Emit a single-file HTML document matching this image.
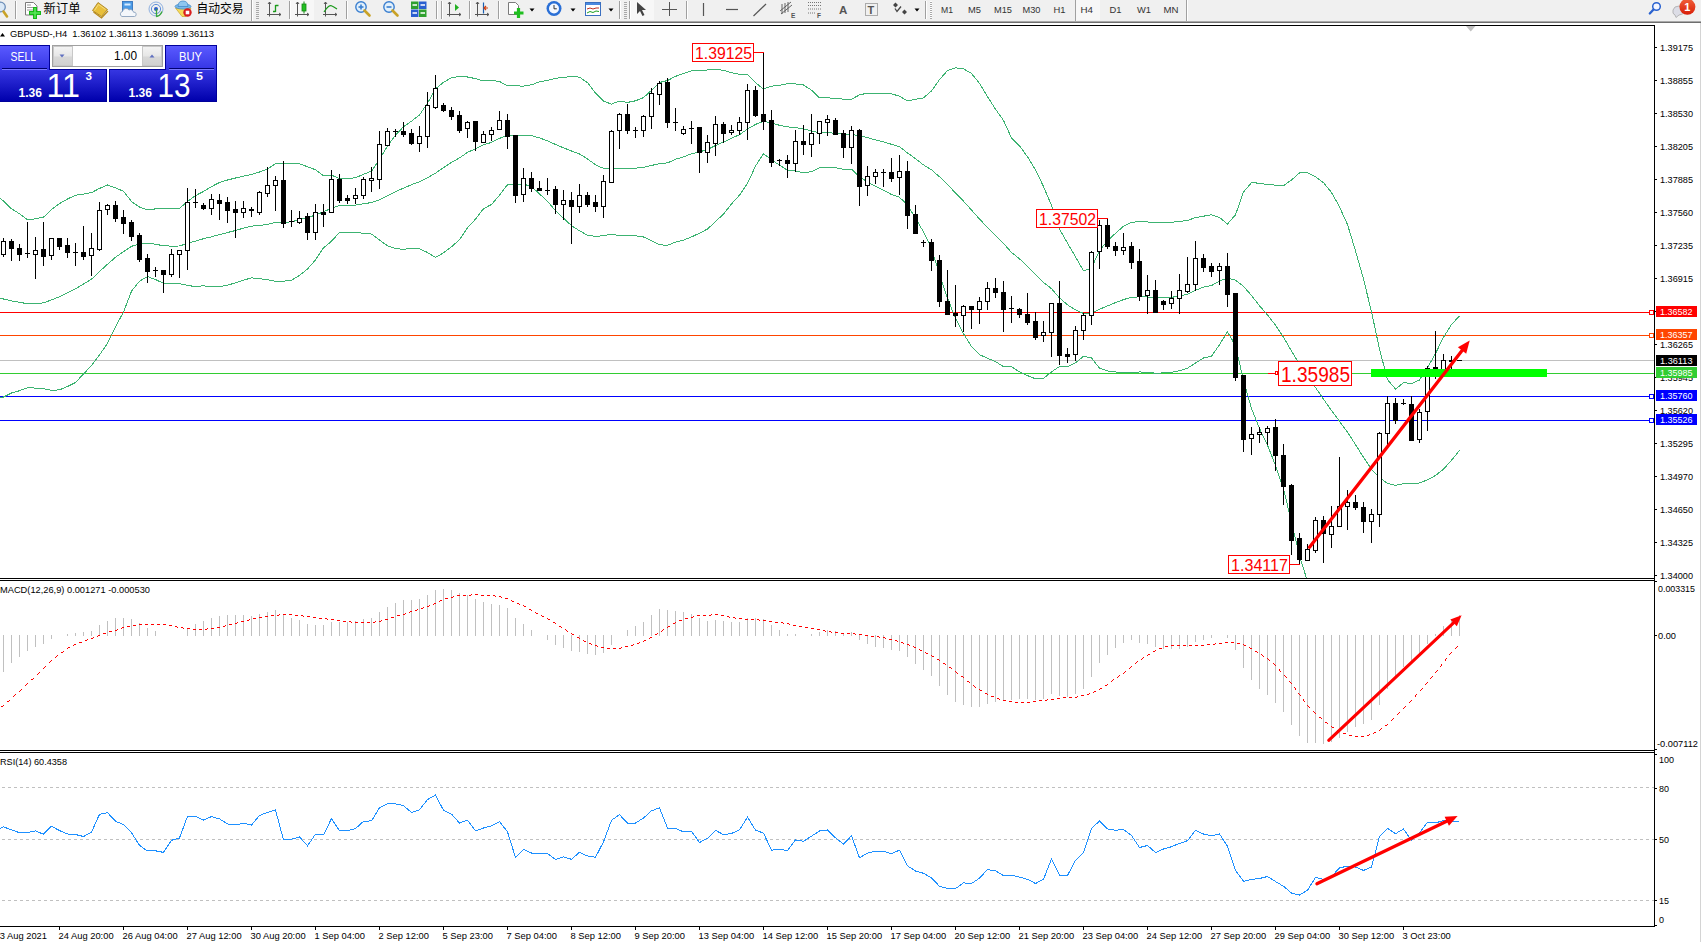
<!DOCTYPE html>
<html><head><meta charset="utf-8"><title>GBPUSD-,H4</title>
<style>html,body{margin:0;padding:0;background:#fff;width:1701px;height:942px;overflow:hidden}svg{display:block}</style>
</head><body>
<svg width="1701" height="942" viewBox="0 0 1701 942" font-family='"Liberation Sans","Noto Sans CJK SC",sans-serif'>
<defs><linearGradient id="gsell" x1="0" y1="0" x2="0" y2="1"><stop offset="0" stop-color="#5a5aff"/><stop offset="1" stop-color="#3434e4"/></linearGradient><linearGradient id="gprice" x1="0" y1="0" x2="0" y2="1"><stop offset="0" stop-color="#3636e2"/><stop offset="1" stop-color="#0000ac"/></linearGradient><linearGradient id="gspin" x1="0" y1="0" x2="0" y2="1"><stop offset="0" stop-color="#f4f4f4"/><stop offset="0.5" stop-color="#e6e6e6"/><stop offset="0.55" stop-color="#d8d8d8"/><stop offset="1" stop-color="#d0d0d0"/></linearGradient><linearGradient id="gbadge" x1="0" y1="0" x2="0" y2="1"><stop offset="0" stop-color="#f0603a"/><stop offset="1" stop-color="#d81e08"/></linearGradient></defs>
<rect x="0" y="0" width="1701" height="942" fill="#ffffff" />
<rect x="0" y="0" width="1701" height="21" fill="#f0f0f0" />
<rect x="0" y="21" width="1701" height="1" fill="#a9a9a9"/>
<rect x="0" y="22" width="1701" height="1" fill="#6e6e6e"/>
<rect x="290" y="0" width="24" height="20" fill="#f7f7f7"/>
<rect x="630" y="0" width="24" height="20" fill="#f7f7f7"/>
<rect x="1076" y="0" width="24" height="20" fill="#f7f7f7"/>
<circle cx="0.5" cy="7" r="4.8" fill="#dbe9f7" stroke="#6e8fb8" stroke-width="1.3"/>
<path d="M3.5,11.5 L7,16.5" stroke="#c9a227" stroke-width="2.6" stroke-linecap="round"/>
<rect x="15" y="1" width="1" height="18" fill="#a0a0a0"/>
<rect x="16" y="1" width="1" height="18" fill="#ffffff"/>
<path d="M25.5,2.5 h8 l3.5,3.5 v9 h-11.5 z" fill="#fff" stroke="#7a7a7a"/>
<path d="M27,5 h4 M27,7.5 h7 M27,10 h7" stroke="#9a9a9a" stroke-width="1"/>
<path d="M35,7 v12 M29,13 h12" stroke="#18b818" stroke-width="4"/>
<path d="M35,8 v10 M30,13 h10" stroke="#5ae65a" stroke-width="1.6"/>
<text x="43.5" y="13.2" font-size="12.2" fill="#000" font-family='"Liberation Sans","Noto Sans CJK SC","WenQuanYi Zen Hei",sans-serif' textLength="37" lengthAdjust="spacingAndGlyphs">新订单</text>
<path d="M92.5,10.5 L98,2.5 L107.5,9.5 L101.5,16.5 Z" fill="#e8bf3a" stroke="#a07818" stroke-width="0.8"/>
<path d="M94.5,10.5 L98.5,4.5 L105.5,9.5" fill="none" stroke="#f6dc80" stroke-width="1"/>
<path d="M93.5,12 L101.5,18 L108,11" fill="none" stroke="#b88a18" stroke-width="1.2"/>
<rect x="122.5" y="1.5" width="10" height="10" fill="#4a9ae6" stroke="#2a6cb8" stroke-width="0.8"/>
<rect x="124.5" y="3.5" width="6" height="2" fill="#d6ebff"/>
<path d="M122,16.5 a2.6,2.6 0 0 1 0.5,-5 a3.6,3.6 0 0 1 6.5,-1.5 a3,3 0 0 1 4.5,2.2 a2.2,2.2 0 0 1 1,4.3 z" fill="#f4f7fb" stroke="#8aa0bc" stroke-width="0.9"/>
<circle cx="156" cy="9" r="7" fill="none" stroke="#8fb0e0" stroke-width="1"/>
<circle cx="156" cy="9" r="4.6" fill="none" stroke="#5f8fd8" stroke-width="1"/>
<circle cx="156" cy="9" r="2" fill="#2f5fc8"/>
<path d="M156.5,9 v7 M156,16.5 q4,0 6,-5" stroke="#3aa83a" stroke-width="1.3" fill="none"/>
<path d="M175.5,8 L191,8 L186,16.5 L182,16.5 Z" fill="#f6dc5a" stroke="#c9a42a" stroke-width="0.7"/>
<ellipse cx="183" cy="6.5" rx="8" ry="2.6" fill="#79b8ea" stroke="#3a82c4" stroke-width="0.7"/>
<path d="M178,6.5 q0,-5.5 5,-5.5 q5,0 5,5.5 z" fill="#8ec6f0" stroke="#3a82c4" stroke-width="0.7"/>
<circle cx="187.5" cy="12.5" r="4.2" fill="#d81e1e"/>
<rect x="185.7" y="10.7" width="3.6" height="3.6" fill="#fff"/>
<text x="196.5" y="13.2" font-size="12.2" fill="#000" font-family='"Liberation Sans","Noto Sans CJK SC","WenQuanYi Zen Hei",sans-serif' textLength="47" lengthAdjust="spacingAndGlyphs">自动交易</text>
<rect x="251" y="0" width="1" height="21" fill="#a0a0a0"/>
<rect x="252" y="0" width="1" height="21" fill="#fff"/>
<rect x="256" y="2" width="3" height="1" fill="#a8a8a8"/>
<rect x="256" y="4" width="3" height="1" fill="#a8a8a8"/>
<rect x="256" y="6" width="3" height="1" fill="#a8a8a8"/>
<rect x="256" y="8" width="3" height="1" fill="#a8a8a8"/>
<rect x="256" y="10" width="3" height="1" fill="#a8a8a8"/>
<rect x="256" y="12" width="3" height="1" fill="#a8a8a8"/>
<rect x="256" y="14" width="3" height="1" fill="#a8a8a8"/>
<rect x="256" y="16" width="3" height="1" fill="#a8a8a8"/>
<rect x="256" y="18" width="3" height="1" fill="#a8a8a8"/>
<path d="M269.5,2 v14.5 M267,14.5 h14" stroke="#555" stroke-width="1" fill="none"/>
<path d="M268,4 l1.5,-2 l1.5,2 M279,13 l2,1.5 l-2,1.5" stroke="#555" stroke-width="1" fill="none"/>
<path d="M275.5,5 v7 M275.5,5.5 h3 M273,11.5 h2.5" stroke="#1a9a1a" stroke-width="1.3" fill="none"/>
<rect x="289" y="1" width="1" height="18" fill="#a0a0a0"/>
<rect x="290" y="1" width="1" height="18" fill="#ffffff"/>
<path d="M297.5,2 v14.5 M295,14.5 h14" stroke="#555" stroke-width="1" fill="none"/>
<path d="M296,4 l1.5,-2 l1.5,2 M307,13 l2,1.5 l-2,1.5" stroke="#555" stroke-width="1" fill="none"/>
<rect x="302" y="4" width="4" height="7" fill="#22c022" stroke="#148814" stroke-width="0.8"/>
<path d="M304,1.5 v2.5 M304,11 v2.5" stroke="#148814" stroke-width="1"/>
<path d="M325.5,2 v14.5 M323,14.5 h14" stroke="#555" stroke-width="1" fill="none"/>
<path d="M324,4 l1.5,-2 l1.5,2 M335,13 l2,1.5 l-2,1.5" stroke="#555" stroke-width="1" fill="none"/>
<path d="M324,12 q5,-8 8,-6 q2,1 5,3" stroke="#1a9a1a" stroke-width="1.2" fill="none"/>
<rect x="346" y="1" width="1" height="18" fill="#a0a0a0"/>
<rect x="347" y="1" width="1" height="18" fill="#ffffff"/>
<circle cx="361" cy="7" r="5.2" fill="#e2f0fb" stroke="#3a7fd0" stroke-width="1.4"/>
<path d="M364.5,10.5 l5,5" stroke="#c9a227" stroke-width="2.6" stroke-linecap="round"/>
<path d="M358.5,7 h5" stroke="#3a7fd0" stroke-width="1.6"/>
<path d="M361,4.5 v5" stroke="#3a7fd0" stroke-width="1.6"/>
<circle cx="389" cy="7" r="5.2" fill="#e2f0fb" stroke="#3a7fd0" stroke-width="1.4"/>
<path d="M392.5,10.5 l5,5" stroke="#c9a227" stroke-width="2.6" stroke-linecap="round"/>
<path d="M386.5,7 h5" stroke="#3a7fd0" stroke-width="1.6"/>
<rect x="411" y="1.5" width="7.5" height="7.5" fill="#2fa02f"/><rect x="419" y="1.5" width="7.5" height="7.5" fill="#2a5fd0"/>
<rect x="411" y="9.5" width="7.5" height="7.5" fill="#2a5fd0"/><rect x="419" y="9.5" width="7.5" height="7.5" fill="#2fa02f"/>
<path d="M412.5,5 h4.5 M420.5,5 h4.5 M412.5,13 h4.5 M420.5,13 h4.5" stroke="#fff" stroke-width="1.5"/>
<rect x="436" y="1" width="1" height="18" fill="#a0a0a0"/>
<rect x="437" y="1" width="1" height="18" fill="#ffffff"/>
<rect x="441" y="1" width="1" height="18" fill="#a0a0a0"/>
<rect x="442" y="1" width="1" height="18" fill="#ffffff"/>
<path d="M449.5,2 v14.5 M447,14.5 h14" stroke="#555" stroke-width="1" fill="none"/>
<path d="M448,4 l1.5,-2 l1.5,2 M459,13 l2,1.5 l-2,1.5" stroke="#555" stroke-width="1" fill="none"/>
<path d="M455,4 l4,3.5 l-4,3.5 z" fill="#22b022"/>
<rect x="469" y="1" width="1" height="18" fill="#a0a0a0"/>
<rect x="470" y="1" width="1" height="18" fill="#ffffff"/>
<path d="M477.5,2 v14.5 M475,14.5 h14" stroke="#555" stroke-width="1" fill="none"/>
<path d="M476,4 l1.5,-2 l1.5,2 M487,13 l2,1.5 l-2,1.5" stroke="#555" stroke-width="1" fill="none"/>
<path d="M483.5,2.5 v11" stroke="#1a5fb0" stroke-width="1.2"/><path d="M488,8 h-3.5 M486,6 l-2,2 l2,2" stroke="#d04010" stroke-width="1.2" fill="none"/>
<rect x="498" y="1" width="1" height="18" fill="#a0a0a0"/>
<rect x="499" y="1" width="1" height="18" fill="#ffffff"/>
<path d="M508.5,2.5 h7 l3,3 v9 h-10 z" fill="#fff" stroke="#7a7a7a"/>
<path d="M518.5,8 v10 M514,13 h9.5" stroke="#1fbf1f" stroke-width="3.2"/>
<path d="M529.5,8.5 h5 l-2.5,3 z" fill="#000"/>
<circle cx="554" cy="8.5" r="7.5" fill="#2a6fd6"/><circle cx="554" cy="8.5" r="5" fill="#f4f8ff"/>
<path d="M554,5 v3.8 h2.8" stroke="#333" stroke-width="1" fill="none"/>
<path d="M570.5,8.5 h5 l-2.5,3 z" fill="#000"/>
<rect x="585.5" y="2.5" width="15" height="13" fill="#fff" stroke="#3a6fc0"/>
<rect x="586" y="3" width="14" height="2" fill="#4a8ae0"/>
<path d="M587,9 l3,-1 l3,1 l3,-1 l3,0" stroke="#c03020" fill="none"/><path d="M587,13 l3,-1.5 l3,1 l3,-1.5 l3,0.5" stroke="#20a020" fill="none"/>
<path d="M608.5,8.5 h5 l-2.5,3 z" fill="#000"/>
<rect x="619" y="1" width="1" height="18" fill="#a0a0a0"/>
<rect x="620" y="1" width="1" height="18" fill="#ffffff"/>
<rect x="624" y="2" width="3" height="1" fill="#a8a8a8"/>
<rect x="624" y="4" width="3" height="1" fill="#a8a8a8"/>
<rect x="624" y="6" width="3" height="1" fill="#a8a8a8"/>
<rect x="624" y="8" width="3" height="1" fill="#a8a8a8"/>
<rect x="624" y="10" width="3" height="1" fill="#a8a8a8"/>
<rect x="624" y="12" width="3" height="1" fill="#a8a8a8"/>
<rect x="624" y="14" width="3" height="1" fill="#a8a8a8"/>
<rect x="624" y="16" width="3" height="1" fill="#a8a8a8"/>
<rect x="624" y="18" width="3" height="1" fill="#a8a8a8"/>
<rect x="629" y="1" width="1" height="18" fill="#a0a0a0"/>
<rect x="630" y="1" width="1" height="18" fill="#ffffff"/>
<path d="M637,2 L637,14 L640,11 L642.5,16 L644.5,15 L642,10 L646,10 Z" fill="#444"/>
<path d="M669.5,2 v14 M662,9.5 h15" stroke="#555" stroke-width="1"/>
<rect x="686" y="1" width="1" height="18" fill="#a0a0a0"/>
<rect x="687" y="1" width="1" height="18" fill="#ffffff"/>
<path d="M703.5,3 v13" stroke="#555" stroke-width="1.2"/>
<path d="M726,9.5 h12" stroke="#555" stroke-width="1.2"/>
<path d="M753.5,16 L766,4" stroke="#555" stroke-width="1.2"/>
<path d="M780,11 L791,2 M781,14 L792,5 M782,4 v10 M785,3 v10 M788,2 v10" stroke="#555" stroke-width="0.9" fill="none"/>
<text x="791" y="18" font-size="6.5" font-weight="bold" fill="#555">E</text>
<path d="M808,2.5 h13 M808,5.5 h13 M808,9 h13 M808,13 h8" stroke="#666" stroke-width="0.9" stroke-dasharray="1,1"/>
<text x="817" y="18" font-size="6.5" font-weight="bold" fill="#555">F</text>
<text x="839" y="13.5" font-size="11.5" font-weight="bold" fill="#555">A</text>
<rect x="865.5" y="3.5" width="12" height="12" fill="none" stroke="#666" stroke-dasharray="1,1"/>
<text x="867.5" y="13.5" font-size="11" font-weight="bold" fill="#555">T</text>
<path d="M893,5 l2.5,-2.5 l2.5,2.5 l-2.5,2.5 z M902,12 l2.5,-2.5 l2.5,2.5 l-2.5,2.5 z" fill="#444"/>
<path d="M895,8.5 l2,3 l4,-5" stroke="#444" stroke-width="1.3" fill="none"/>
<path d="M914.5,8.5 h5 l-2.5,3 z" fill="#000"/>
<rect x="925" y="1" width="1" height="18" fill="#a0a0a0"/>
<rect x="926" y="1" width="1" height="18" fill="#ffffff"/>
<rect x="930" y="1" width="2" height="18" fill="#fff"/>
<rect x="930" y="2" width="2" height="1" fill="#a8a8a8"/>
<rect x="930" y="4" width="2" height="1" fill="#a8a8a8"/>
<rect x="930" y="6" width="2" height="1" fill="#a8a8a8"/>
<rect x="930" y="8" width="2" height="1" fill="#a8a8a8"/>
<rect x="930" y="10" width="2" height="1" fill="#a8a8a8"/>
<rect x="930" y="12" width="2" height="1" fill="#a8a8a8"/>
<rect x="930" y="14" width="2" height="1" fill="#a8a8a8"/>
<rect x="930" y="16" width="2" height="1" fill="#a8a8a8"/>
<rect x="930" y="18" width="2" height="1" fill="#a8a8a8"/>
<text x="941" y="13" font-size="9.8" fill="#333" textLength="12" lengthAdjust="spacingAndGlyphs">M1</text>
<text x="968" y="13" font-size="9.8" fill="#333" textLength="13" lengthAdjust="spacingAndGlyphs">M5</text>
<text x="994" y="13" font-size="9.8" fill="#333" textLength="18" lengthAdjust="spacingAndGlyphs">M15</text>
<text x="1022.5" y="13" font-size="9.8" fill="#333" textLength="18" lengthAdjust="spacingAndGlyphs">M30</text>
<text x="1053.5" y="13" font-size="9.8" fill="#333" textLength="12" lengthAdjust="spacingAndGlyphs">H1</text>
<text x="1080.5" y="13" font-size="9.8" fill="#333" textLength="12.5" lengthAdjust="spacingAndGlyphs">H4</text>
<text x="1109.5" y="13" font-size="9.8" fill="#333" textLength="12" lengthAdjust="spacingAndGlyphs">D1</text>
<text x="1137" y="13" font-size="9.8" fill="#333" textLength="14" lengthAdjust="spacingAndGlyphs">W1</text>
<text x="1163.5" y="13" font-size="9.8" fill="#333" textLength="15" lengthAdjust="spacingAndGlyphs">MN</text>
<rect x="1075" y="0" width="1" height="21" fill="#a0a0a0"/>
<rect x="1076" y="0" width="1" height="21" fill="#f7f7f7"/>
<rect x="1186" y="0" width="1" height="21" fill="#a0a0a0"/>
<rect x="1187" y="0" width="1" height="21" fill="#fff"/>
<circle cx="1656.5" cy="6.5" r="3.8" fill="#f4f6ff" stroke="#2a62d0" stroke-width="1.5"/>
<path d="M1653.5,9.5 L1649.8,13.5" stroke="#2a62d0" stroke-width="2.3" stroke-linecap="round"/>
<path d="M1675,15 q-3,-1 -2,-5 q1,-4 6,-4 q5,0 6,4 q0,4 -6,5 l-3,2.5 z" fill="#dcdde6" stroke="#a8a8a8" stroke-width="0.8"/>
<circle cx="1687.4" cy="6.8" r="8" fill="url(#gbadge)"/>
<text x="1687.4" y="10.8" font-size="11" font-weight="bold" fill="#fff" text-anchor="middle">1</text>
<rect x="1700" y="23" width="1" height="919" fill="#d4d4d4"/>
<g shape-rendering="crispEdges">
<rect x="0" y="25" width="1655" height="1" fill="#000"/>
<rect x="0" y="578" width="1655" height="1" fill="#000"/>
<rect x="0" y="580" width="1655" height="1" fill="#000"/>
<rect x="0" y="750" width="1655" height="1" fill="#000"/>
<rect x="0" y="752" width="1655" height="1" fill="#000"/>
<rect x="0" y="926" width="1655" height="1" fill="#000"/>
<rect x="1654" y="25" width="1" height="902" fill="#000"/>
</g>
<svg x="0" y="26" width="1654" height="552" viewBox="0 26 1654 552" overflow="hidden">
<g shape-rendering="crispEdges">
<rect x="0" y="312" width="1650" height="1" fill="#ff0000"/>
<rect x="1649.5" y="310.5" width="4" height="4" fill="#fff" stroke="#ff0000" stroke-width="1"/>
<rect x="0" y="335" width="1650" height="1" fill="#ff4500"/>
<rect x="1649.5" y="333.5" width="4" height="4" fill="#fff" stroke="#ff4500" stroke-width="1"/>
<rect x="0" y="360" width="1654" height="1" fill="#c0c0c0"/>
<rect x="0" y="373" width="1654" height="1" fill="#32cd32"/>
<rect x="0" y="396" width="1650" height="1" fill="#0000ff"/>
<rect x="1649.5" y="394.5" width="4" height="4" fill="#fff" stroke="#0000ff" stroke-width="1"/>
<rect x="0" y="420" width="1650" height="1" fill="#0000ff"/>
<rect x="1649.5" y="418.5" width="4" height="4" fill="#fff" stroke="#0000ff" stroke-width="1"/>
</g>
<g shape-rendering="crispEdges">
<polyline points="-4.5,195.4 3.5,200.9 11.5,208.8 19.5,213.7 27.5,219.8 35.5,218.8 43.5,217.2 51.5,209.6 59.5,203.6 67.5,199.0 75.5,195.2 83.5,194.1 91.5,192.6 99.5,188.4 107.5,185.0 115.5,187.9 123.5,191.2 131.5,201.5 139.5,207.1 147.5,209.8 155.5,208.9 163.5,208.2 171.5,208.4 179.5,208.3 187.5,201.5 195.5,195.6 203.5,191.5 211.5,186.6 219.5,182.5 227.5,180.0 235.5,178.0 243.5,176.1 251.5,174.5 259.5,172.0 267.5,168.9 275.5,163.8 283.5,163.8 291.5,163.4 299.5,163.9 307.5,166.7 315.5,169.8 323.5,175.8 331.5,175.1 339.5,178.7 347.5,178.4 355.5,177.8 363.5,174.2 371.5,171.2 379.5,159.3 387.5,146.0 395.5,135.2 403.5,126.7 411.5,121.2 419.5,115.0 427.5,103.2 435.5,89.0 443.5,82.3 451.5,77.8 459.5,76.3 467.5,77.0 475.5,78.6 483.5,81.0 491.5,80.2 499.5,81.5 507.5,85.8 515.5,85.9 523.5,86.1 531.5,84.8 539.5,81.8 547.5,80.5 555.5,78.3 563.5,77.5 571.5,76.3 579.5,77.2 587.5,82.6 595.5,93.2 603.5,101.1 611.5,104.1 619.5,101.1 627.5,102.4 635.5,100.8 643.5,97.6 651.5,90.3 659.5,82.5 667.5,80.5 675.5,76.4 683.5,73.4 691.5,70.8 699.5,70.6 707.5,70.0 715.5,69.5 723.5,70.3 731.5,72.7 739.5,74.2 747.5,74.5 755.5,82.8 763.5,89.0 771.5,86.2 779.5,85.4 787.5,83.7 795.5,83.9 803.5,85.0 811.5,90.1 819.5,98.0 827.5,97.7 835.5,98.7 843.5,99.1 851.5,99.2 859.5,94.9 867.5,93.1 875.5,93.6 883.5,93.6 891.5,93.9 899.5,96.1 907.5,101.0 915.5,99.3 923.5,97.9 931.5,91.0 939.5,79.6 947.5,70.6 955.5,67.8 963.5,68.8 971.5,73.5 979.5,83.3 987.5,96.7 995.5,109.2 1003.5,120.4 1011.5,138.1 1019.5,145.8 1027.5,156.8 1035.5,170.0 1043.5,186.5 1051.5,205.4 1059.5,229.2 1067.5,243.2 1075.5,256.8 1083.5,270.7 1091.5,268.2 1099.5,250.4 1107.5,240.9 1115.5,233.3 1123.5,226.2 1131.5,222.1 1139.5,221.9 1147.5,222.0 1155.5,222.7 1163.5,222.6 1171.5,222.3 1179.5,221.4 1187.5,220.4 1195.5,217.6 1203.5,216.2 1211.5,214.7 1219.5,217.4 1227.5,224.0 1235.5,214.8 1243.5,192.0 1251.5,182.7 1259.5,183.2 1267.5,184.6 1275.5,185.1 1283.5,185.6 1291.5,180.0 1299.5,172.9 1307.5,172.9 1315.5,176.6 1323.5,182.7 1331.5,192.5 1339.5,206.8 1347.5,224.6 1355.5,250.8 1363.5,279.1 1371.5,311.8 1379.5,349.1 1387.5,379.5 1395.5,389.1 1403.5,382.7 1411.5,383.5 1419.5,380.0 1427.5,367.6 1435.5,353.5 1443.5,337.3 1451.5,324.5 1459.5,315.9" fill="none" stroke="#3cb371" stroke-width="1" />
<polyline points="-4.5,297.5 3.5,299.0 11.5,300.9 19.5,302.2 27.5,303.8 35.5,303.4 43.5,302.9 51.5,299.9 59.5,296.7 67.5,292.7 75.5,288.8 83.5,284.0 91.5,279.2 99.5,271.6 107.5,264.2 115.5,257.3 123.5,251.6 131.5,246.3 139.5,244.1 147.5,243.2 155.5,244.2 163.5,245.8 171.5,246.1 179.5,246.0 187.5,243.4 195.5,241.1 203.5,238.7 211.5,236.8 219.5,234.6 227.5,232.5 235.5,230.5 243.5,228.1 251.5,226.2 259.5,225.4 267.5,224.4 275.5,222.5 283.5,222.5 291.5,221.8 299.5,219.7 307.5,217.8 315.5,214.9 323.5,211.9 331.5,208.1 339.5,205.6 347.5,205.5 355.5,205.1 363.5,203.7 371.5,202.6 379.5,199.7 387.5,195.8 395.5,191.8 403.5,188.1 411.5,184.7 419.5,181.8 427.5,177.8 435.5,173.2 443.5,167.6 451.5,162.3 459.5,157.9 467.5,152.4 475.5,148.8 483.5,144.9 491.5,142.4 499.5,138.4 507.5,135.2 515.5,135.2 523.5,135.1 531.5,135.6 539.5,137.9 547.5,140.8 555.5,144.5 563.5,147.8 571.5,151.0 579.5,154.0 587.5,158.9 595.5,164.8 603.5,168.4 611.5,169.2 619.5,168.4 627.5,168.8 635.5,168.2 643.5,167.3 651.5,165.5 659.5,163.6 667.5,162.9 675.5,159.3 683.5,156.8 691.5,153.8 699.5,151.9 707.5,149.5 715.5,145.5 723.5,142.1 731.5,138.3 739.5,134.7 747.5,129.0 755.5,124.4 763.5,121.4 771.5,122.9 779.5,125.3 787.5,126.9 795.5,127.5 803.5,128.9 811.5,130.9 819.5,132.8 827.5,132.7 835.5,133.3 843.5,134.1 851.5,134.2 859.5,135.9 867.5,137.6 875.5,139.9 883.5,141.9 891.5,144.3 899.5,146.7 907.5,152.9 915.5,158.8 923.5,164.9 931.5,169.8 939.5,176.8 947.5,184.4 955.5,193.1 963.5,201.2 971.5,210.0 979.5,219.0 987.5,227.5 995.5,235.4 1003.5,243.5 1011.5,252.4 1019.5,258.9 1027.5,266.2 1035.5,274.4 1043.5,282.4 1051.5,288.7 1059.5,297.9 1067.5,304.9 1075.5,309.8 1083.5,313.5 1091.5,313.1 1099.5,309.3 1107.5,305.9 1115.5,302.6 1123.5,299.6 1131.5,297.2 1139.5,296.9 1147.5,297.0 1155.5,298.0 1163.5,297.8 1171.5,297.3 1179.5,296.1 1187.5,294.2 1195.5,290.3 1203.5,287.1 1211.5,285.5 1219.5,281.1 1227.5,277.9 1235.5,280.2 1243.5,286.4 1251.5,295.5 1259.5,305.8 1267.5,314.9 1275.5,325.2 1283.5,337.2 1291.5,351.1 1299.5,364.3 1307.5,377.2 1315.5,387.6 1323.5,399.1 1331.5,410.5 1339.5,421.3 1347.5,432.2 1355.5,444.6 1363.5,457.3 1371.5,469.4 1379.5,477.8 1387.5,483.3 1395.5,485.4 1403.5,483.7 1411.5,483.9 1419.5,482.9 1427.5,479.9 1435.5,475.5 1443.5,469.2 1451.5,460.3 1459.5,450.4" fill="none" stroke="#3cb371" stroke-width="1" />
<polyline points="-4.5,399.6 3.5,397.0 11.5,393.0 19.5,390.7 27.5,387.7 35.5,388.1 43.5,388.7 51.5,390.2 59.5,389.9 67.5,386.5 75.5,382.5 83.5,373.9 91.5,365.7 99.5,354.9 107.5,343.4 115.5,326.7 123.5,312.0 131.5,291.2 139.5,281.1 147.5,276.6 155.5,279.5 163.5,283.4 171.5,283.9 179.5,283.6 187.5,285.4 195.5,286.6 203.5,285.8 211.5,286.9 219.5,286.7 227.5,285.1 235.5,282.9 243.5,280.1 251.5,277.9 259.5,278.7 267.5,279.8 275.5,281.2 283.5,281.2 291.5,280.1 299.5,275.5 307.5,268.9 315.5,259.9 323.5,247.9 331.5,241.2 339.5,232.5 347.5,232.5 355.5,232.5 363.5,233.2 371.5,234.1 379.5,240.1 387.5,245.7 395.5,248.4 403.5,249.4 411.5,248.2 419.5,248.7 427.5,252.5 435.5,257.5 443.5,252.9 451.5,246.8 459.5,239.6 467.5,227.8 475.5,219.1 483.5,208.7 491.5,204.5 499.5,195.3 507.5,184.7 515.5,184.5 523.5,184.2 531.5,186.4 539.5,194.0 547.5,201.2 555.5,210.7 563.5,218.1 571.5,225.7 579.5,230.8 587.5,235.2 595.5,236.4 603.5,235.7 611.5,234.3 619.5,235.7 627.5,235.2 635.5,235.7 643.5,237.0 651.5,240.7 659.5,244.8 667.5,245.3 675.5,242.2 683.5,240.2 691.5,236.9 699.5,233.2 707.5,229.0 715.5,221.6 723.5,214.0 731.5,204.0 739.5,195.1 747.5,183.5 755.5,166.0 763.5,153.8 771.5,159.7 779.5,165.2 787.5,170.2 795.5,171.1 803.5,172.8 811.5,171.6 819.5,167.6 827.5,167.6 835.5,167.8 843.5,169.2 851.5,169.2 859.5,176.9 867.5,182.0 875.5,186.3 883.5,190.1 891.5,194.6 899.5,197.3 907.5,204.8 915.5,218.4 923.5,231.8 931.5,248.6 939.5,274.1 947.5,298.2 955.5,318.4 963.5,333.6 971.5,346.5 979.5,354.7 987.5,358.2 995.5,361.6 1003.5,366.6 1011.5,366.8 1019.5,371.9 1027.5,375.6 1035.5,378.8 1043.5,378.3 1051.5,371.9 1059.5,366.5 1067.5,366.7 1075.5,362.8 1083.5,356.3 1091.5,358.0 1099.5,368.2 1107.5,370.9 1115.5,371.9 1123.5,373.0 1131.5,372.3 1139.5,372.0 1147.5,372.1 1155.5,373.3 1163.5,372.9 1171.5,372.3 1179.5,370.8 1187.5,368.1 1195.5,363.1 1203.5,358.0 1211.5,356.3 1219.5,344.7 1227.5,331.8 1235.5,345.7 1243.5,380.7 1251.5,408.3 1259.5,428.5 1267.5,445.2 1275.5,465.4 1283.5,488.8 1291.5,522.2 1299.5,555.7 1307.5,581.5 1315.5,598.7 1323.5,615.5 1331.5,628.5 1339.5,635.8 1347.5,639.8 1355.5,638.4 1363.5,635.5 1371.5,627.0 1379.5,606.5 1387.5,587.0 1395.5,581.7 1403.5,584.6 1411.5,584.4 1419.5,585.8 1427.5,592.2 1435.5,597.6 1443.5,601.1 1451.5,596.1 1459.5,584.8" fill="none" stroke="#3cb371" stroke-width="1" />
</g>
<g shape-rendering="crispEdges">
<rect x="3" y="238" width="1" height="19" fill="#000"/>
<rect x="1.5" y="241.5" width="4" height="13" fill="#fff" stroke="#000" stroke-width="1"/>
<rect x="11" y="239" width="1" height="22" fill="#000"/>
<rect x="9" y="241" width="5" height="8" fill="#000" />
<rect x="19" y="244" width="1" height="17" fill="#000"/>
<rect x="17" y="248" width="5" height="7" fill="#000" />
<rect x="27" y="222" width="1" height="36" fill="#000"/>
<rect x="25" y="253" width="5" height="1" fill="#000"/>
<rect x="35" y="237" width="1" height="42" fill="#000"/>
<rect x="33.5" y="250.5" width="4" height="4" fill="#fff" stroke="#000" stroke-width="1"/>
<rect x="43" y="222" width="1" height="44" fill="#000"/>
<rect x="41" y="249" width="5" height="8" fill="#000" />
<rect x="51" y="238" width="1" height="22" fill="#000"/>
<rect x="49.5" y="238.5" width="4" height="17" fill="#fff" stroke="#000" stroke-width="1"/>
<rect x="59" y="238" width="1" height="12" fill="#000"/>
<rect x="57" y="238" width="5" height="9" fill="#000" />
<rect x="67" y="238" width="1" height="20" fill="#000"/>
<rect x="65" y="245" width="5" height="8" fill="#000" />
<rect x="75" y="243" width="1" height="23" fill="#000"/>
<rect x="73" y="252" width="5" height="1" fill="#000"/>
<rect x="83" y="226" width="1" height="34" fill="#000"/>
<rect x="81" y="252" width="5" height="5" fill="#000" />
<rect x="91" y="233" width="1" height="43" fill="#000"/>
<rect x="89.5" y="248.5" width="4" height="7" fill="#fff" stroke="#000" stroke-width="1"/>
<rect x="99" y="202" width="1" height="49" fill="#000"/>
<rect x="97.5" y="210.5" width="4" height="39" fill="#fff" stroke="#000" stroke-width="1"/>
<rect x="107" y="204" width="1" height="11" fill="#000"/>
<rect x="105.5" y="205.5" width="4" height="4" fill="#fff" stroke="#000" stroke-width="1"/>
<rect x="115" y="201" width="1" height="21" fill="#000"/>
<rect x="113" y="205" width="5" height="14" fill="#000" />
<rect x="123" y="210" width="1" height="24" fill="#000"/>
<rect x="121" y="217" width="5" height="7" fill="#000" />
<rect x="131" y="220" width="1" height="21" fill="#000"/>
<rect x="129" y="222" width="5" height="15" fill="#000" />
<rect x="139" y="233" width="1" height="29" fill="#000"/>
<rect x="137" y="235" width="5" height="25" fill="#000" />
<rect x="147" y="254" width="1" height="29" fill="#000"/>
<rect x="145" y="258" width="5" height="14" fill="#000" />
<rect x="155" y="267" width="1" height="10" fill="#000"/>
<rect x="153" y="270" width="5" height="1" fill="#000"/>
<rect x="163" y="270" width="1" height="23" fill="#000"/>
<rect x="161" y="270" width="5" height="5" fill="#000" />
<rect x="171" y="249" width="1" height="28" fill="#000"/>
<rect x="169.5" y="254.5" width="4" height="20" fill="#fff" stroke="#000" stroke-width="1"/>
<rect x="179" y="250" width="1" height="28" fill="#000"/>
<rect x="177.5" y="250.5" width="4" height="4" fill="#fff" stroke="#000" stroke-width="1"/>
<rect x="187" y="188" width="1" height="82" fill="#000"/>
<rect x="185.5" y="202.5" width="4" height="48" fill="#fff" stroke="#000" stroke-width="1"/>
<rect x="195" y="189" width="1" height="19" fill="#000"/>
<rect x="193" y="202" width="5" height="1" fill="#000"/>
<rect x="203" y="203" width="1" height="7" fill="#000"/>
<rect x="201" y="205" width="5" height="4" fill="#000" />
<rect x="211" y="194" width="1" height="21" fill="#000"/>
<rect x="209.5" y="199.5" width="4" height="9" fill="#fff" stroke="#000" stroke-width="1"/>
<rect x="219" y="194" width="1" height="26" fill="#000"/>
<rect x="217" y="200" width="5" height="4" fill="#000" />
<rect x="227" y="197" width="1" height="26" fill="#000"/>
<rect x="225" y="202" width="5" height="9" fill="#000" />
<rect x="235" y="201" width="1" height="37" fill="#000"/>
<rect x="233" y="209" width="5" height="4" fill="#000" />
<rect x="243" y="201" width="1" height="17" fill="#000"/>
<rect x="241.5" y="208.5" width="4" height="4" fill="#fff" stroke="#000" stroke-width="1"/>
<rect x="251" y="207" width="1" height="10" fill="#000"/>
<rect x="249" y="209" width="5" height="2" fill="#000" />
<rect x="259" y="191" width="1" height="24" fill="#000"/>
<rect x="257.5" y="192.5" width="4" height="20" fill="#fff" stroke="#000" stroke-width="1"/>
<rect x="267" y="167" width="1" height="30" fill="#000"/>
<rect x="265.5" y="185.5" width="4" height="8" fill="#fff" stroke="#000" stroke-width="1"/>
<rect x="275" y="176" width="1" height="35" fill="#000"/>
<rect x="273.5" y="180.5" width="4" height="5" fill="#fff" stroke="#000" stroke-width="1"/>
<rect x="283" y="161" width="1" height="67" fill="#000"/>
<rect x="281" y="180" width="5" height="44" fill="#000" />
<rect x="291" y="210" width="1" height="17" fill="#000"/>
<rect x="289" y="221" width="5" height="1" fill="#000"/>
<rect x="299" y="211" width="1" height="13" fill="#000"/>
<rect x="297.5" y="218.5" width="4" height="4" fill="#fff" stroke="#000" stroke-width="1"/>
<rect x="307" y="213" width="1" height="27" fill="#000"/>
<rect x="305" y="216" width="5" height="17" fill="#000" />
<rect x="315" y="204" width="1" height="36" fill="#000"/>
<rect x="313.5" y="212.5" width="4" height="20" fill="#fff" stroke="#000" stroke-width="1"/>
<rect x="323" y="204" width="1" height="23" fill="#000"/>
<rect x="321" y="212" width="5" height="3" fill="#000" />
<rect x="331" y="170" width="1" height="43" fill="#000"/>
<rect x="329.5" y="179.5" width="4" height="33" fill="#fff" stroke="#000" stroke-width="1"/>
<rect x="339" y="174" width="1" height="29" fill="#000"/>
<rect x="337" y="179" width="5" height="22" fill="#000" />
<rect x="347" y="195" width="1" height="9" fill="#000"/>
<rect x="345" y="198" width="5" height="3" fill="#000" />
<rect x="355" y="188" width="1" height="16" fill="#000"/>
<rect x="353.5" y="195.5" width="4" height="3" fill="#fff" stroke="#000" stroke-width="1"/>
<rect x="363" y="177" width="1" height="22" fill="#000"/>
<rect x="361.5" y="179.5" width="4" height="16" fill="#fff" stroke="#000" stroke-width="1"/>
<rect x="371" y="167" width="1" height="25" fill="#000"/>
<rect x="369.5" y="178.5" width="4" height="2" fill="#fff" stroke="#000" stroke-width="1"/>
<rect x="379" y="131" width="1" height="58" fill="#000"/>
<rect x="377.5" y="144.5" width="4" height="35" fill="#fff" stroke="#000" stroke-width="1"/>
<rect x="387" y="128" width="1" height="18" fill="#000"/>
<rect x="385.5" y="131.5" width="4" height="14" fill="#fff" stroke="#000" stroke-width="1"/>
<rect x="395" y="129" width="1" height="8" fill="#000"/>
<rect x="393" y="131" width="5" height="1" fill="#000"/>
<rect x="403" y="122" width="1" height="15" fill="#000"/>
<rect x="401" y="131" width="5" height="4" fill="#000" />
<rect x="411" y="129" width="1" height="16" fill="#000"/>
<rect x="409" y="133" width="5" height="11" fill="#000" />
<rect x="419" y="126" width="1" height="26" fill="#000"/>
<rect x="417.5" y="136.5" width="4" height="7" fill="#fff" stroke="#000" stroke-width="1"/>
<rect x="427" y="92" width="1" height="56" fill="#000"/>
<rect x="425.5" y="105.5" width="4" height="31" fill="#fff" stroke="#000" stroke-width="1"/>
<rect x="435" y="75" width="1" height="34" fill="#000"/>
<rect x="433.5" y="88.5" width="4" height="19" fill="#fff" stroke="#000" stroke-width="1"/>
<rect x="443" y="103" width="1" height="9" fill="#000"/>
<rect x="441" y="105" width="5" height="6" fill="#000" />
<rect x="451" y="107" width="1" height="13" fill="#000"/>
<rect x="449" y="110" width="5" height="7" fill="#000" />
<rect x="459" y="111" width="1" height="22" fill="#000"/>
<rect x="457" y="115" width="5" height="16" fill="#000" />
<rect x="467" y="121" width="1" height="17" fill="#000"/>
<rect x="465.5" y="122.5" width="4" height="6" fill="#fff" stroke="#000" stroke-width="1"/>
<rect x="475" y="121" width="1" height="30" fill="#000"/>
<rect x="473" y="121" width="5" height="21" fill="#000" />
<rect x="483" y="131" width="1" height="12" fill="#000"/>
<rect x="481.5" y="134.5" width="4" height="8" fill="#fff" stroke="#000" stroke-width="1"/>
<rect x="491" y="127" width="1" height="14" fill="#000"/>
<rect x="489.5" y="130.5" width="4" height="4" fill="#fff" stroke="#000" stroke-width="1"/>
<rect x="499" y="111" width="1" height="19" fill="#000"/>
<rect x="497.5" y="120.5" width="4" height="9" fill="#fff" stroke="#000" stroke-width="1"/>
<rect x="507" y="114" width="1" height="35" fill="#000"/>
<rect x="505" y="120" width="5" height="17" fill="#000" />
<rect x="515" y="135" width="1" height="68" fill="#000"/>
<rect x="513" y="135" width="5" height="61" fill="#000" />
<rect x="523" y="168" width="1" height="34" fill="#000"/>
<rect x="521.5" y="178.5" width="4" height="16" fill="#fff" stroke="#000" stroke-width="1"/>
<rect x="531" y="172" width="1" height="20" fill="#000"/>
<rect x="529" y="178" width="5" height="11" fill="#000" />
<rect x="539" y="181" width="1" height="10" fill="#000"/>
<rect x="537" y="188" width="5" height="3" fill="#000" />
<rect x="547" y="178" width="1" height="17" fill="#000"/>
<rect x="545" y="190" width="5" height="1" fill="#000"/>
<rect x="555" y="186" width="1" height="28" fill="#000"/>
<rect x="553" y="189" width="5" height="16" fill="#000" />
<rect x="563" y="190" width="1" height="30" fill="#000"/>
<rect x="561.5" y="200.5" width="4" height="4" fill="#fff" stroke="#000" stroke-width="1"/>
<rect x="571" y="192" width="1" height="52" fill="#000"/>
<rect x="569" y="200" width="5" height="7" fill="#000" />
<rect x="579" y="184" width="1" height="29" fill="#000"/>
<rect x="577.5" y="195.5" width="4" height="11" fill="#fff" stroke="#000" stroke-width="1"/>
<rect x="587" y="192" width="1" height="15" fill="#000"/>
<rect x="585" y="195" width="5" height="10" fill="#000" />
<rect x="595" y="195" width="1" height="17" fill="#000"/>
<rect x="593" y="202" width="5" height="5" fill="#000" />
<rect x="603" y="175" width="1" height="43" fill="#000"/>
<rect x="601.5" y="181.5" width="4" height="25" fill="#fff" stroke="#000" stroke-width="1"/>
<rect x="611" y="130" width="1" height="53" fill="#000"/>
<rect x="609.5" y="131.5" width="4" height="51" fill="#fff" stroke="#000" stroke-width="1"/>
<rect x="619" y="113" width="1" height="36" fill="#000"/>
<rect x="617.5" y="114.5" width="4" height="16" fill="#fff" stroke="#000" stroke-width="1"/>
<rect x="627" y="104" width="1" height="30" fill="#000"/>
<rect x="625" y="114" width="5" height="17" fill="#000" />
<rect x="635" y="127" width="1" height="11" fill="#000"/>
<rect x="633" y="130" width="5" height="1" fill="#000"/>
<rect x="643" y="115" width="1" height="22" fill="#000"/>
<rect x="641.5" y="116.5" width="4" height="14" fill="#fff" stroke="#000" stroke-width="1"/>
<rect x="651" y="88" width="1" height="41" fill="#000"/>
<rect x="649.5" y="93.5" width="4" height="23" fill="#fff" stroke="#000" stroke-width="1"/>
<rect x="659" y="81" width="1" height="24" fill="#000"/>
<rect x="657.5" y="83.5" width="4" height="11" fill="#fff" stroke="#000" stroke-width="1"/>
<rect x="667" y="78" width="1" height="50" fill="#000"/>
<rect x="665" y="82" width="5" height="41" fill="#000" />
<rect x="675" y="108" width="1" height="23" fill="#000"/>
<rect x="673" y="122" width="5" height="1" fill="#000"/>
<rect x="683" y="126" width="1" height="9" fill="#000"/>
<rect x="681.5" y="129.5" width="4" height="4" fill="#fff" stroke="#000" stroke-width="1"/>
<rect x="691" y="121" width="1" height="23" fill="#000"/>
<rect x="689" y="128" width="5" height="1" fill="#000"/>
<rect x="699" y="127" width="1" height="46" fill="#000"/>
<rect x="697" y="127" width="5" height="26" fill="#000" />
<rect x="707" y="135" width="1" height="28" fill="#000"/>
<rect x="705.5" y="142.5" width="4" height="10" fill="#fff" stroke="#000" stroke-width="1"/>
<rect x="715" y="116" width="1" height="40" fill="#000"/>
<rect x="713.5" y="124.5" width="4" height="19" fill="#fff" stroke="#000" stroke-width="1"/>
<rect x="723" y="122" width="1" height="21" fill="#000"/>
<rect x="721" y="124" width="5" height="10" fill="#000" />
<rect x="731" y="125" width="1" height="10" fill="#000"/>
<rect x="729.5" y="130.5" width="4" height="2" fill="#fff" stroke="#000" stroke-width="1"/>
<rect x="739" y="117" width="1" height="18" fill="#000"/>
<rect x="737.5" y="122.5" width="4" height="8" fill="#fff" stroke="#000" stroke-width="1"/>
<rect x="747" y="84" width="1" height="56" fill="#000"/>
<rect x="745.5" y="90.5" width="4" height="32" fill="#fff" stroke="#000" stroke-width="1"/>
<rect x="755" y="86" width="1" height="31" fill="#000"/>
<rect x="753" y="90" width="5" height="26" fill="#000" />
<rect x="763" y="52" width="1" height="78" fill="#000"/>
<rect x="761" y="114" width="5" height="8" fill="#000" />
<rect x="771" y="110" width="1" height="57" fill="#000"/>
<rect x="769" y="120" width="5" height="43" fill="#000" />
<rect x="779" y="159" width="1" height="7" fill="#000"/>
<rect x="777" y="160" width="5" height="1" fill="#000"/>
<rect x="787" y="155" width="1" height="23" fill="#000"/>
<rect x="785" y="160" width="5" height="4" fill="#000" />
<rect x="795" y="130" width="1" height="42" fill="#000"/>
<rect x="793.5" y="141.5" width="4" height="22" fill="#fff" stroke="#000" stroke-width="1"/>
<rect x="803" y="125" width="1" height="30" fill="#000"/>
<rect x="801" y="141" width="5" height="4" fill="#000" />
<rect x="811" y="114" width="1" height="43" fill="#000"/>
<rect x="809.5" y="133.5" width="4" height="11" fill="#fff" stroke="#000" stroke-width="1"/>
<rect x="819" y="121" width="1" height="23" fill="#000"/>
<rect x="817.5" y="121.5" width="4" height="12" fill="#fff" stroke="#000" stroke-width="1"/>
<rect x="827" y="115" width="1" height="21" fill="#000"/>
<rect x="825.5" y="119.5" width="4" height="3" fill="#fff" stroke="#000" stroke-width="1"/>
<rect x="835" y="118" width="1" height="17" fill="#000"/>
<rect x="833" y="120" width="5" height="15" fill="#000" />
<rect x="843" y="130" width="1" height="28" fill="#000"/>
<rect x="841" y="133" width="5" height="15" fill="#000" />
<rect x="851" y="126" width="1" height="38" fill="#000"/>
<rect x="849.5" y="130.5" width="4" height="17" fill="#fff" stroke="#000" stroke-width="1"/>
<rect x="859" y="129" width="1" height="77" fill="#000"/>
<rect x="857" y="130" width="5" height="57" fill="#000" />
<rect x="867" y="166" width="1" height="30" fill="#000"/>
<rect x="865.5" y="176.5" width="4" height="9" fill="#fff" stroke="#000" stroke-width="1"/>
<rect x="875" y="169" width="1" height="15" fill="#000"/>
<rect x="873.5" y="172.5" width="4" height="4" fill="#fff" stroke="#000" stroke-width="1"/>
<rect x="883" y="169" width="1" height="18" fill="#000"/>
<rect x="881" y="172" width="5" height="1" fill="#000"/>
<rect x="891" y="158" width="1" height="24" fill="#000"/>
<rect x="889" y="172" width="5" height="7" fill="#000" />
<rect x="899" y="155" width="1" height="40" fill="#000"/>
<rect x="897.5" y="171.5" width="4" height="6" fill="#fff" stroke="#000" stroke-width="1"/>
<rect x="907" y="161" width="1" height="68" fill="#000"/>
<rect x="905" y="171" width="5" height="45" fill="#000" />
<rect x="915" y="205" width="1" height="29" fill="#000"/>
<rect x="913" y="214" width="5" height="20" fill="#000" />
<rect x="923" y="240" width="1" height="7" fill="#000"/>
<rect x="921" y="242" width="5" height="1" fill="#000"/>
<rect x="931" y="239" width="1" height="32" fill="#000"/>
<rect x="929" y="242" width="5" height="19" fill="#000" />
<rect x="939" y="255" width="1" height="52" fill="#000"/>
<rect x="937" y="260" width="5" height="42" fill="#000" />
<rect x="947" y="270" width="1" height="45" fill="#000"/>
<rect x="945" y="301" width="5" height="14" fill="#000" />
<rect x="955" y="285" width="1" height="42" fill="#000"/>
<rect x="953" y="313" width="5" height="3" fill="#000" />
<rect x="963" y="305" width="1" height="27" fill="#000"/>
<rect x="961.5" y="306.5" width="4" height="9" fill="#fff" stroke="#000" stroke-width="1"/>
<rect x="971" y="306" width="1" height="23" fill="#000"/>
<rect x="969" y="306" width="5" height="4" fill="#000" />
<rect x="979" y="297" width="1" height="27" fill="#000"/>
<rect x="977.5" y="301.5" width="4" height="8" fill="#fff" stroke="#000" stroke-width="1"/>
<rect x="987" y="282" width="1" height="28" fill="#000"/>
<rect x="985.5" y="288.5" width="4" height="13" fill="#fff" stroke="#000" stroke-width="1"/>
<rect x="995" y="278" width="1" height="20" fill="#000"/>
<rect x="993" y="288" width="5" height="5" fill="#000" />
<rect x="1003" y="281" width="1" height="51" fill="#000"/>
<rect x="1001" y="292" width="5" height="18" fill="#000" />
<rect x="1011" y="296" width="1" height="27" fill="#000"/>
<rect x="1009" y="308" width="5" height="1" fill="#000"/>
<rect x="1019" y="308" width="1" height="10" fill="#000"/>
<rect x="1017" y="309" width="5" height="6" fill="#000" />
<rect x="1027" y="293" width="1" height="32" fill="#000"/>
<rect x="1025" y="314" width="5" height="9" fill="#000" />
<rect x="1035" y="312" width="1" height="28" fill="#000"/>
<rect x="1033" y="321" width="5" height="17" fill="#000" />
<rect x="1043" y="321" width="1" height="21" fill="#000"/>
<rect x="1041.5" y="332.5" width="4" height="3" fill="#fff" stroke="#000" stroke-width="1"/>
<rect x="1051" y="303" width="1" height="54" fill="#000"/>
<rect x="1049.5" y="303.5" width="4" height="29" fill="#fff" stroke="#000" stroke-width="1"/>
<rect x="1059" y="281" width="1" height="84" fill="#000"/>
<rect x="1057" y="303" width="5" height="53" fill="#000" />
<rect x="1067" y="348" width="1" height="15" fill="#000"/>
<rect x="1065" y="354" width="5" height="3" fill="#000" />
<rect x="1075" y="326" width="1" height="35" fill="#000"/>
<rect x="1073.5" y="330.5" width="4" height="24" fill="#fff" stroke="#000" stroke-width="1"/>
<rect x="1083" y="313" width="1" height="27" fill="#000"/>
<rect x="1081.5" y="315.5" width="4" height="15" fill="#fff" stroke="#000" stroke-width="1"/>
<rect x="1091" y="251" width="1" height="74" fill="#000"/>
<rect x="1089.5" y="252.5" width="4" height="63" fill="#fff" stroke="#000" stroke-width="1"/>
<rect x="1099" y="220" width="1" height="49" fill="#000"/>
<rect x="1097.5" y="225.5" width="4" height="26" fill="#fff" stroke="#000" stroke-width="1"/>
<rect x="1107" y="218" width="1" height="31" fill="#000"/>
<rect x="1105" y="225" width="5" height="22" fill="#000" />
<rect x="1115" y="242" width="1" height="14" fill="#000"/>
<rect x="1113" y="246" width="5" height="5" fill="#000" />
<rect x="1123" y="233" width="1" height="22" fill="#000"/>
<rect x="1121.5" y="247.5" width="4" height="3" fill="#fff" stroke="#000" stroke-width="1"/>
<rect x="1131" y="242" width="1" height="27" fill="#000"/>
<rect x="1129" y="246" width="5" height="17" fill="#000" />
<rect x="1139" y="249" width="1" height="52" fill="#000"/>
<rect x="1137" y="261" width="5" height="36" fill="#000" />
<rect x="1147" y="275" width="1" height="39" fill="#000"/>
<rect x="1145.5" y="290.5" width="4" height="5" fill="#fff" stroke="#000" stroke-width="1"/>
<rect x="1155" y="280" width="1" height="33" fill="#000"/>
<rect x="1153" y="290" width="5" height="23" fill="#000" />
<rect x="1163" y="300" width="1" height="10" fill="#000"/>
<rect x="1161" y="301" width="5" height="4" fill="#000" />
<rect x="1171" y="291" width="1" height="18" fill="#000"/>
<rect x="1169.5" y="298.5" width="4" height="5" fill="#fff" stroke="#000" stroke-width="1"/>
<rect x="1179" y="274" width="1" height="40" fill="#000"/>
<rect x="1177.5" y="290.5" width="4" height="8" fill="#fff" stroke="#000" stroke-width="1"/>
<rect x="1187" y="257" width="1" height="36" fill="#000"/>
<rect x="1185.5" y="284.5" width="4" height="7" fill="#fff" stroke="#000" stroke-width="1"/>
<rect x="1195" y="241" width="1" height="50" fill="#000"/>
<rect x="1193.5" y="258.5" width="4" height="26" fill="#fff" stroke="#000" stroke-width="1"/>
<rect x="1203" y="254" width="1" height="18" fill="#000"/>
<rect x="1201" y="258" width="5" height="10" fill="#000" />
<rect x="1211" y="263" width="1" height="14" fill="#000"/>
<rect x="1209" y="266" width="5" height="6" fill="#000" />
<rect x="1219" y="263" width="1" height="22" fill="#000"/>
<rect x="1217.5" y="266.5" width="4" height="4" fill="#fff" stroke="#000" stroke-width="1"/>
<rect x="1227" y="253" width="1" height="54" fill="#000"/>
<rect x="1225" y="266" width="5" height="29" fill="#000" />
<rect x="1235" y="293" width="1" height="88" fill="#000"/>
<rect x="1233" y="293" width="5" height="85" fill="#000" />
<rect x="1243" y="375" width="1" height="77" fill="#000"/>
<rect x="1241" y="375" width="5" height="65" fill="#000" />
<rect x="1251" y="427" width="1" height="28" fill="#000"/>
<rect x="1249.5" y="434.5" width="4" height="4" fill="#fff" stroke="#000" stroke-width="1"/>
<rect x="1259" y="427" width="1" height="16" fill="#000"/>
<rect x="1257.5" y="432.5" width="4" height="2" fill="#fff" stroke="#000" stroke-width="1"/>
<rect x="1267" y="426" width="1" height="19" fill="#000"/>
<rect x="1265.5" y="428.5" width="4" height="4" fill="#fff" stroke="#000" stroke-width="1"/>
<rect x="1275" y="419" width="1" height="52" fill="#000"/>
<rect x="1273" y="427" width="5" height="29" fill="#000" />
<rect x="1283" y="444" width="1" height="61" fill="#000"/>
<rect x="1281" y="455" width="5" height="32" fill="#000" />
<rect x="1291" y="484" width="1" height="71" fill="#000"/>
<rect x="1289" y="485" width="5" height="56" fill="#000" />
<rect x="1299" y="533" width="1" height="32" fill="#000"/>
<rect x="1297" y="538" width="5" height="22" fill="#000" />
<rect x="1307" y="544" width="1" height="17" fill="#000"/>
<rect x="1305.5" y="549.5" width="4" height="11" fill="#fff" stroke="#000" stroke-width="1"/>
<rect x="1315" y="517" width="1" height="36" fill="#000"/>
<rect x="1313.5" y="520.5" width="4" height="30" fill="#fff" stroke="#000" stroke-width="1"/>
<rect x="1323" y="516" width="1" height="47" fill="#000"/>
<rect x="1321" y="520" width="5" height="14" fill="#000" />
<rect x="1331" y="506" width="1" height="42" fill="#000"/>
<rect x="1329.5" y="526.5" width="4" height="8" fill="#fff" stroke="#000" stroke-width="1"/>
<rect x="1339" y="457" width="1" height="70" fill="#000"/>
<rect x="1337.5" y="506.5" width="4" height="20" fill="#fff" stroke="#000" stroke-width="1"/>
<rect x="1347" y="490" width="1" height="40" fill="#000"/>
<rect x="1345.5" y="502.5" width="4" height="4" fill="#fff" stroke="#000" stroke-width="1"/>
<rect x="1355" y="495" width="1" height="15" fill="#000"/>
<rect x="1353" y="502" width="5" height="6" fill="#000" />
<rect x="1363" y="502" width="1" height="31" fill="#000"/>
<rect x="1361" y="507" width="5" height="15" fill="#000" />
<rect x="1371" y="509" width="1" height="34" fill="#000"/>
<rect x="1369.5" y="514.5" width="4" height="7" fill="#fff" stroke="#000" stroke-width="1"/>
<rect x="1379" y="432" width="1" height="95" fill="#000"/>
<rect x="1377.5" y="433.5" width="4" height="81" fill="#fff" stroke="#000" stroke-width="1"/>
<rect x="1387" y="396" width="1" height="50" fill="#000"/>
<rect x="1385.5" y="403.5" width="4" height="30" fill="#fff" stroke="#000" stroke-width="1"/>
<rect x="1395" y="398" width="1" height="26" fill="#000"/>
<rect x="1393" y="403" width="5" height="18" fill="#000" />
<rect x="1403" y="399" width="1" height="6" fill="#000"/>
<rect x="1401" y="403" width="5" height="1" fill="#000"/>
<rect x="1411" y="396" width="1" height="45" fill="#000"/>
<rect x="1409" y="404" width="5" height="37" fill="#000" />
<rect x="1419" y="409" width="1" height="34" fill="#000"/>
<rect x="1417.5" y="412.5" width="4" height="27" fill="#fff" stroke="#000" stroke-width="1"/>
<rect x="1427" y="366" width="1" height="65" fill="#000"/>
<rect x="1425.5" y="368.5" width="4" height="43" fill="#fff" stroke="#000" stroke-width="1"/>
<rect x="1435" y="331" width="1" height="48" fill="#000"/>
<rect x="1433" y="367" width="5" height="3" fill="#000" />
<rect x="1443" y="354" width="1" height="16" fill="#000"/>
<rect x="1441.5" y="360.5" width="4" height="9" fill="#fff" stroke="#000" stroke-width="1"/>
<rect x="1451" y="356" width="1" height="13" fill="#000"/>
<rect x="1449" y="360" width="5" height="2" fill="#000" />
<rect x="1457" y="360" width="5" height="1" fill="#000"/>
</g>
<g shape-rendering="crispEdges">
<rect x="754" y="52" width="10" height="1" fill="#ff0000"/>
<rect x="1098" y="218" width="10" height="1" fill="#ff0000"/>
<rect x="1290" y="564" width="10" height="1" fill="#ff0000"/>
<rect x="1268" y="373" width="8" height="1" fill="#ff0000"/>
<rect x="1275.5" y="371.5" width="2" height="3" fill="#fff" stroke="#ff0000" stroke-width="1"/>
</g>
<rect x="692.5" y="43.5" width="61" height="18" fill="#fff" stroke="#ff0000" stroke-width="1" shape-rendering="crispEdges"/>
<text x="695" y="59.2" font-size="16.5" fill="#ff0000" textLength="57" lengthAdjust="spacingAndGlyphs">1.39125</text>
<rect x="1036.5" y="209.5" width="61" height="18" fill="#fff" stroke="#ff0000" stroke-width="1" shape-rendering="crispEdges"/>
<text x="1039" y="225.2" font-size="16.5" fill="#ff0000" textLength="57" lengthAdjust="spacingAndGlyphs">1.37502</text>
<rect x="1228.5" y="555.5" width="61" height="18" fill="#fff" stroke="#ff0000" stroke-width="1" shape-rendering="crispEdges"/>
<text x="1231" y="571.2" font-size="16.5" fill="#ff0000" textLength="57" lengthAdjust="spacingAndGlyphs">1.34117</text>
<rect x="1278.5" y="361.5" width="73" height="24" fill="#fff" stroke="#ff0000" stroke-width="1" shape-rendering="crispEdges"/>
<text x="1281" y="382" font-size="21.8" fill="#ff0000" textLength="69" lengthAdjust="spacingAndGlyphs">1.35985</text>
<rect x="1371" y="369" width="176" height="8" fill="#00ff00" shape-rendering="crispEdges"/>
<line x1="1309.5" y1="547.3" x2="1462.66" y2="349.69" stroke="#ff0000" stroke-width="3.3" stroke-linecap="round"/><path d="M1469.70,340.60 L1466.19,353.70 L1457.89,347.26 Z" fill="#ff0000"/>
<path d="M1466,26 h9.5 l-4.75,5.5 z" fill="#c0c0c0"/>
</svg>
<svg x="0" y="581" width="1654" height="169" viewBox="0 581 1654 169" overflow="hidden">
<g shape-rendering="crispEdges">
<rect x="3" y="635" width="1" height="37" fill="#c0c0c0"/>
<rect x="11" y="635" width="1" height="28" fill="#c0c0c0"/>
<rect x="19" y="635" width="1" height="22" fill="#c0c0c0"/>
<rect x="27" y="635" width="1" height="16" fill="#c0c0c0"/>
<rect x="35" y="635" width="1" height="12" fill="#c0c0c0"/>
<rect x="43" y="635" width="1" height="9" fill="#c0c0c0"/>
<rect x="51" y="635" width="1" height="4" fill="#c0c0c0"/>
<rect x="67" y="634" width="1" height="2" fill="#c0c0c0"/>
<rect x="75" y="633" width="1" height="3" fill="#c0c0c0"/>
<rect x="83" y="632" width="1" height="4" fill="#c0c0c0"/>
<rect x="91" y="631" width="1" height="5" fill="#c0c0c0"/>
<rect x="99" y="625" width="1" height="11" fill="#c0c0c0"/>
<rect x="107" y="621" width="1" height="15" fill="#c0c0c0"/>
<rect x="115" y="618" width="1" height="18" fill="#c0c0c0"/>
<rect x="123" y="618" width="1" height="18" fill="#c0c0c0"/>
<rect x="131" y="619" width="1" height="17" fill="#c0c0c0"/>
<rect x="139" y="623" width="1" height="13" fill="#c0c0c0"/>
<rect x="147" y="628" width="1" height="8" fill="#c0c0c0"/>
<rect x="155" y="631" width="1" height="5" fill="#c0c0c0"/>
<rect x="187" y="629" width="1" height="7" fill="#c0c0c0"/>
<rect x="195" y="624" width="1" height="12" fill="#c0c0c0"/>
<rect x="203" y="621" width="1" height="15" fill="#c0c0c0"/>
<rect x="211" y="618" width="1" height="18" fill="#c0c0c0"/>
<rect x="219" y="616" width="1" height="20" fill="#c0c0c0"/>
<rect x="227" y="615" width="1" height="21" fill="#c0c0c0"/>
<rect x="235" y="615" width="1" height="21" fill="#c0c0c0"/>
<rect x="243" y="615" width="1" height="21" fill="#c0c0c0"/>
<rect x="251" y="616" width="1" height="20" fill="#c0c0c0"/>
<rect x="259" y="614" width="1" height="22" fill="#c0c0c0"/>
<rect x="267" y="612" width="1" height="24" fill="#c0c0c0"/>
<rect x="275" y="610" width="1" height="26" fill="#c0c0c0"/>
<rect x="283" y="614" width="1" height="22" fill="#c0c0c0"/>
<rect x="291" y="618" width="1" height="18" fill="#c0c0c0"/>
<rect x="299" y="620" width="1" height="16" fill="#c0c0c0"/>
<rect x="307" y="624" width="1" height="12" fill="#c0c0c0"/>
<rect x="315" y="625" width="1" height="11" fill="#c0c0c0"/>
<rect x="323" y="625" width="1" height="11" fill="#c0c0c0"/>
<rect x="331" y="622" width="1" height="14" fill="#c0c0c0"/>
<rect x="339" y="622" width="1" height="14" fill="#c0c0c0"/>
<rect x="347" y="622" width="1" height="14" fill="#c0c0c0"/>
<rect x="355" y="621" width="1" height="15" fill="#c0c0c0"/>
<rect x="363" y="619" width="1" height="17" fill="#c0c0c0"/>
<rect x="371" y="618" width="1" height="18" fill="#c0c0c0"/>
<rect x="379" y="612" width="1" height="24" fill="#c0c0c0"/>
<rect x="387" y="607" width="1" height="29" fill="#c0c0c0"/>
<rect x="395" y="603" width="1" height="33" fill="#c0c0c0"/>
<rect x="403" y="600" width="1" height="36" fill="#c0c0c0"/>
<rect x="411" y="600" width="1" height="36" fill="#c0c0c0"/>
<rect x="419" y="599" width="1" height="37" fill="#c0c0c0"/>
<rect x="427" y="595" width="1" height="41" fill="#c0c0c0"/>
<rect x="435" y="590" width="1" height="46" fill="#c0c0c0"/>
<rect x="443" y="589" width="1" height="47" fill="#c0c0c0"/>
<rect x="451" y="590" width="1" height="46" fill="#c0c0c0"/>
<rect x="459" y="593" width="1" height="43" fill="#c0c0c0"/>
<rect x="467" y="595" width="1" height="41" fill="#c0c0c0"/>
<rect x="475" y="599" width="1" height="37" fill="#c0c0c0"/>
<rect x="483" y="602" width="1" height="34" fill="#c0c0c0"/>
<rect x="491" y="604" width="1" height="32" fill="#c0c0c0"/>
<rect x="499" y="605" width="1" height="31" fill="#c0c0c0"/>
<rect x="507" y="608" width="1" height="28" fill="#c0c0c0"/>
<rect x="515" y="618" width="1" height="18" fill="#c0c0c0"/>
<rect x="523" y="624" width="1" height="12" fill="#c0c0c0"/>
<rect x="531" y="630" width="1" height="6" fill="#c0c0c0"/>
<rect x="547" y="635" width="1" height="5" fill="#c0c0c0"/>
<rect x="555" y="635" width="1" height="10" fill="#c0c0c0"/>
<rect x="563" y="635" width="1" height="13" fill="#c0c0c0"/>
<rect x="571" y="635" width="1" height="16" fill="#c0c0c0"/>
<rect x="579" y="635" width="1" height="17" fill="#c0c0c0"/>
<rect x="587" y="635" width="1" height="19" fill="#c0c0c0"/>
<rect x="595" y="635" width="1" height="20" fill="#c0c0c0"/>
<rect x="603" y="635" width="1" height="18" fill="#c0c0c0"/>
<rect x="611" y="635" width="1" height="10" fill="#c0c0c0"/>
<rect x="627" y="630" width="1" height="6" fill="#c0c0c0"/>
<rect x="635" y="626" width="1" height="10" fill="#c0c0c0"/>
<rect x="643" y="622" width="1" height="14" fill="#c0c0c0"/>
<rect x="651" y="615" width="1" height="21" fill="#c0c0c0"/>
<rect x="659" y="609" width="1" height="27" fill="#c0c0c0"/>
<rect x="667" y="610" width="1" height="26" fill="#c0c0c0"/>
<rect x="675" y="611" width="1" height="25" fill="#c0c0c0"/>
<rect x="683" y="612" width="1" height="24" fill="#c0c0c0"/>
<rect x="691" y="614" width="1" height="22" fill="#c0c0c0"/>
<rect x="699" y="618" width="1" height="18" fill="#c0c0c0"/>
<rect x="707" y="621" width="1" height="15" fill="#c0c0c0"/>
<rect x="715" y="620" width="1" height="16" fill="#c0c0c0"/>
<rect x="723" y="621" width="1" height="15" fill="#c0c0c0"/>
<rect x="731" y="622" width="1" height="14" fill="#c0c0c0"/>
<rect x="739" y="622" width="1" height="14" fill="#c0c0c0"/>
<rect x="747" y="618" width="1" height="18" fill="#c0c0c0"/>
<rect x="755" y="618" width="1" height="18" fill="#c0c0c0"/>
<rect x="763" y="619" width="1" height="17" fill="#c0c0c0"/>
<rect x="771" y="625" width="1" height="11" fill="#c0c0c0"/>
<rect x="779" y="630" width="1" height="6" fill="#c0c0c0"/>
<rect x="787" y="634" width="1" height="2" fill="#c0c0c0"/>
<rect x="795" y="634" width="1" height="2" fill="#c0c0c0"/>
<rect x="811" y="634" width="1" height="2" fill="#c0c0c0"/>
<rect x="819" y="632" width="1" height="4" fill="#c0c0c0"/>
<rect x="827" y="630" width="1" height="6" fill="#c0c0c0"/>
<rect x="835" y="631" width="1" height="5" fill="#c0c0c0"/>
<rect x="843" y="633" width="1" height="3" fill="#c0c0c0"/>
<rect x="851" y="632" width="1" height="4" fill="#c0c0c0"/>
<rect x="859" y="635" width="1" height="5" fill="#c0c0c0"/>
<rect x="867" y="635" width="1" height="9" fill="#c0c0c0"/>
<rect x="875" y="635" width="1" height="12" fill="#c0c0c0"/>
<rect x="883" y="635" width="1" height="13" fill="#c0c0c0"/>
<rect x="891" y="635" width="1" height="15" fill="#c0c0c0"/>
<rect x="899" y="635" width="1" height="16" fill="#c0c0c0"/>
<rect x="907" y="635" width="1" height="22" fill="#c0c0c0"/>
<rect x="915" y="635" width="1" height="29" fill="#c0c0c0"/>
<rect x="923" y="635" width="1" height="35" fill="#c0c0c0"/>
<rect x="931" y="635" width="1" height="41" fill="#c0c0c0"/>
<rect x="939" y="635" width="1" height="51" fill="#c0c0c0"/>
<rect x="947" y="635" width="1" height="60" fill="#c0c0c0"/>
<rect x="955" y="635" width="1" height="67" fill="#c0c0c0"/>
<rect x="963" y="635" width="1" height="70" fill="#c0c0c0"/>
<rect x="971" y="635" width="1" height="72" fill="#c0c0c0"/>
<rect x="979" y="635" width="1" height="72" fill="#c0c0c0"/>
<rect x="987" y="635" width="1" height="69" fill="#c0c0c0"/>
<rect x="995" y="635" width="1" height="67" fill="#c0c0c0"/>
<rect x="1003" y="635" width="1" height="66" fill="#c0c0c0"/>
<rect x="1011" y="635" width="1" height="65" fill="#c0c0c0"/>
<rect x="1019" y="635" width="1" height="64" fill="#c0c0c0"/>
<rect x="1027" y="635" width="1" height="64" fill="#c0c0c0"/>
<rect x="1035" y="635" width="1" height="65" fill="#c0c0c0"/>
<rect x="1043" y="635" width="1" height="64" fill="#c0c0c0"/>
<rect x="1051" y="635" width="1" height="59" fill="#c0c0c0"/>
<rect x="1059" y="635" width="1" height="61" fill="#c0c0c0"/>
<rect x="1067" y="635" width="1" height="62" fill="#c0c0c0"/>
<rect x="1075" y="635" width="1" height="59" fill="#c0c0c0"/>
<rect x="1083" y="635" width="1" height="54" fill="#c0c0c0"/>
<rect x="1091" y="635" width="1" height="42" fill="#c0c0c0"/>
<rect x="1099" y="635" width="1" height="28" fill="#c0c0c0"/>
<rect x="1107" y="635" width="1" height="20" fill="#c0c0c0"/>
<rect x="1115" y="635" width="1" height="13" fill="#c0c0c0"/>
<rect x="1123" y="635" width="1" height="8" fill="#c0c0c0"/>
<rect x="1131" y="635" width="1" height="5" fill="#c0c0c0"/>
<rect x="1139" y="635" width="1" height="8" fill="#c0c0c0"/>
<rect x="1147" y="635" width="1" height="9" fill="#c0c0c0"/>
<rect x="1155" y="635" width="1" height="12" fill="#c0c0c0"/>
<rect x="1163" y="635" width="1" height="14" fill="#c0c0c0"/>
<rect x="1171" y="635" width="1" height="14" fill="#c0c0c0"/>
<rect x="1179" y="635" width="1" height="14" fill="#c0c0c0"/>
<rect x="1187" y="635" width="1" height="12" fill="#c0c0c0"/>
<rect x="1195" y="635" width="1" height="7" fill="#c0c0c0"/>
<rect x="1203" y="635" width="1" height="5" fill="#c0c0c0"/>
<rect x="1211" y="635" width="1" height="3" fill="#c0c0c0"/>
<rect x="1227" y="635" width="1" height="3" fill="#c0c0c0"/>
<rect x="1235" y="635" width="1" height="15" fill="#c0c0c0"/>
<rect x="1243" y="635" width="1" height="33" fill="#c0c0c0"/>
<rect x="1251" y="635" width="1" height="45" fill="#c0c0c0"/>
<rect x="1259" y="635" width="1" height="54" fill="#c0c0c0"/>
<rect x="1267" y="635" width="1" height="60" fill="#c0c0c0"/>
<rect x="1275" y="635" width="1" height="68" fill="#c0c0c0"/>
<rect x="1283" y="635" width="1" height="77" fill="#c0c0c0"/>
<rect x="1291" y="635" width="1" height="90" fill="#c0c0c0"/>
<rect x="1299" y="635" width="1" height="101" fill="#c0c0c0"/>
<rect x="1307" y="635" width="1" height="108" fill="#c0c0c0"/>
<rect x="1315" y="635" width="1" height="108" fill="#c0c0c0"/>
<rect x="1323" y="635" width="1" height="109" fill="#c0c0c0"/>
<rect x="1331" y="635" width="1" height="107" fill="#c0c0c0"/>
<rect x="1339" y="635" width="1" height="103" fill="#c0c0c0"/>
<rect x="1347" y="635" width="1" height="97" fill="#c0c0c0"/>
<rect x="1355" y="635" width="1" height="92" fill="#c0c0c0"/>
<rect x="1363" y="635" width="1" height="89" fill="#c0c0c0"/>
<rect x="1371" y="635" width="1" height="85" fill="#c0c0c0"/>
<rect x="1379" y="635" width="1" height="70" fill="#c0c0c0"/>
<rect x="1387" y="635" width="1" height="54" fill="#c0c0c0"/>
<rect x="1395" y="635" width="1" height="43" fill="#c0c0c0"/>
<rect x="1403" y="635" width="1" height="32" fill="#c0c0c0"/>
<rect x="1411" y="635" width="1" height="28" fill="#c0c0c0"/>
<rect x="1419" y="635" width="1" height="20" fill="#c0c0c0"/>
<rect x="1427" y="635" width="1" height="9" fill="#c0c0c0"/>
<rect x="1435" y="634" width="1" height="2" fill="#c0c0c0"/>
<rect x="1443" y="626" width="1" height="10" fill="#c0c0c0"/>
<rect x="1451" y="619" width="1" height="17" fill="#c0c0c0"/>
<rect x="1459" y="615" width="1" height="21" fill="#c0c0c0"/>
</g>
<g shape-rendering="crispEdges">
<path d="M-5,710h1v1h-1zM-4,709h1v1h-1zM-3,709h1v1h-1zM1,706h1v1h-1zM2,706h1v1h-1zM3,705h1v1h-1zM7,701h1v1h-1zM8,701h1v1h-1zM9,700h1v1h-1zM13,696h1v1h-1zM14,695h1v1h-1zM15,694h1v1h-1zM19,691h1v1h-1zM20,690h1v1h-1zM21,689h1v1h-1zM25,685h1v1h-1zM26,684h1v1h-1zM27,683h1v1h-1zM31,679h1v1h-1zM32,679h1v1h-1zM33,678h1v1h-1zM37,674h1v1h-1zM38,673h1v1h-1zM39,672h1v1h-1zM43,668h1v1h-1zM44,667h1v1h-1zM45,666h1v1h-1zM49,662h1v1h-1zM50,661h1v1h-1zM51,660h1v1h-1zM55,657h1v1h-1zM56,656h1v1h-1zM57,655h1v1h-1zM61,652h1v1h-1zM62,652h1v1h-1zM63,651h1v1h-1zM67,648h1v1h-1zM68,647h1v1h-1zM69,647h1v1h-1zM73,645h1v1h-1zM74,644h1v1h-1zM75,644h1v1h-1zM79,642h1v1h-1zM80,642h1v1h-1zM81,642h1v1h-1zM85,640h1v1h-1zM86,640h1v1h-1zM87,639h1v1h-1zM91,638h1v1h-1zM92,638h1v1h-1zM93,637h1v1h-1zM97,636h1v1h-1zM98,635h1v1h-1zM99,635h1v1h-1zM103,633h1v1h-1zM104,633h1v1h-1zM105,633h1v1h-1zM109,631h1v1h-1zM110,631h1v1h-1zM111,631h1v1h-1zM115,630h1v1h-1zM116,630h1v1h-1zM117,629h1v1h-1zM121,628h1v1h-1zM122,627h1v1h-1zM123,627h1v1h-1zM127,626h1v1h-1zM128,626h1v1h-1zM129,626h1v1h-1zM133,625h1v1h-1zM134,625h1v1h-1zM135,625h1v1h-1zM139,624h1v1h-1zM140,624h1v1h-1zM141,624h1v1h-1zM145,624h1v1h-1zM146,624h1v1h-1zM147,624h1v1h-1zM151,624h1v1h-1zM152,624h1v1h-1zM153,624h1v1h-1zM157,624h1v1h-1zM158,624h1v1h-1zM159,624h1v1h-1zM163,624h1v1h-1zM164,624h1v1h-1zM165,624h1v1h-1zM169,625h1v1h-1zM170,625h1v1h-1zM171,625h1v1h-1zM175,626h1v1h-1zM176,626h1v1h-1zM177,627h1v1h-1zM181,627h1v1h-1zM182,627h1v1h-1zM183,628h1v1h-1zM187,628h1v1h-1zM188,628h1v1h-1zM189,628h1v1h-1zM193,629h1v1h-1zM194,629h1v1h-1zM195,629h1v1h-1zM199,629h1v1h-1zM200,629h1v1h-1zM201,629h1v1h-1zM205,629h1v1h-1zM206,629h1v1h-1zM207,628h1v1h-1zM211,628h1v1h-1zM212,628h1v1h-1zM213,628h1v1h-1zM217,627h1v1h-1zM218,627h1v1h-1zM219,627h1v1h-1zM223,626h1v1h-1zM224,626h1v1h-1zM225,625h1v1h-1zM229,624h1v1h-1zM230,624h1v1h-1zM231,624h1v1h-1zM235,623h1v1h-1zM236,623h1v1h-1zM237,622h1v1h-1zM241,621h1v1h-1zM242,621h1v1h-1zM243,621h1v1h-1zM247,620h1v1h-1zM248,620h1v1h-1zM249,619h1v1h-1zM253,618h1v1h-1zM254,618h1v1h-1zM255,618h1v1h-1zM259,617h1v1h-1zM260,617h1v1h-1zM261,617h1v1h-1zM265,616h1v1h-1zM266,616h1v1h-1zM267,616h1v1h-1zM271,615h1v1h-1zM272,615h1v1h-1zM273,615h1v1h-1zM277,615h1v1h-1zM278,615h1v1h-1zM279,614h1v1h-1zM283,614h1v1h-1zM284,614h1v1h-1zM285,614h1v1h-1zM289,614h1v1h-1zM290,614h1v1h-1zM291,614h1v1h-1zM295,615h1v1h-1zM296,615h1v1h-1zM297,615h1v1h-1zM301,615h1v1h-1zM302,615h1v1h-1zM303,616h1v1h-1zM307,616h1v1h-1zM308,616h1v1h-1zM309,616h1v1h-1zM313,617h1v1h-1zM314,617h1v1h-1zM315,617h1v1h-1zM319,618h1v1h-1zM320,618h1v1h-1zM321,618h1v1h-1zM325,618h1v1h-1zM326,618h1v1h-1zM327,619h1v1h-1zM331,619h1v1h-1zM332,619h1v1h-1zM333,619h1v1h-1zM337,620h1v1h-1zM338,620h1v1h-1zM339,620h1v1h-1zM343,621h1v1h-1zM344,621h1v1h-1zM345,621h1v1h-1zM349,621h1v1h-1zM350,621h1v1h-1zM351,622h1v1h-1zM355,622h1v1h-1zM356,622h1v1h-1zM357,622h1v1h-1zM361,622h1v1h-1zM362,622h1v1h-1zM363,622h1v1h-1zM367,622h1v1h-1zM368,622h1v1h-1zM369,622h1v1h-1zM373,622h1v1h-1zM374,622h1v1h-1zM375,621h1v1h-1zM379,621h1v1h-1zM380,621h1v1h-1zM381,620h1v1h-1zM385,619h1v1h-1zM386,619h1v1h-1zM387,619h1v1h-1zM391,617h1v1h-1zM392,617h1v1h-1zM393,617h1v1h-1zM397,615h1v1h-1zM398,615h1v1h-1zM399,615h1v1h-1zM403,614h1v1h-1zM404,614h1v1h-1zM405,613h1v1h-1zM409,612h1v1h-1zM410,611h1v1h-1zM411,611h1v1h-1zM415,610h1v1h-1zM416,610h1v1h-1zM417,609h1v1h-1zM421,608h1v1h-1zM422,608h1v1h-1zM423,607h1v1h-1zM427,606h1v1h-1zM428,606h1v1h-1zM429,605h1v1h-1zM433,604h1v1h-1zM434,603h1v1h-1zM435,603h1v1h-1zM439,601h1v1h-1zM440,600h1v1h-1zM441,600h1v1h-1zM445,598h1v1h-1zM446,598h1v1h-1zM447,598h1v1h-1zM451,597h1v1h-1zM452,597h1v1h-1zM453,596h1v1h-1zM457,595h1v1h-1zM458,595h1v1h-1zM459,595h1v1h-1zM463,595h1v1h-1zM464,595h1v1h-1zM465,595h1v1h-1zM469,595h1v1h-1zM470,595h1v1h-1zM471,594h1v1h-1zM475,594h1v1h-1zM476,594h1v1h-1zM477,594h1v1h-1zM481,595h1v1h-1zM482,595h1v1h-1zM483,595h1v1h-1zM487,595h1v1h-1zM488,595h1v1h-1zM489,595h1v1h-1zM493,595h1v1h-1zM494,595h1v1h-1zM495,596h1v1h-1zM499,596h1v1h-1zM500,596h1v1h-1zM501,597h1v1h-1zM505,598h1v1h-1zM506,598h1v1h-1zM507,598h1v1h-1zM511,600h1v1h-1zM512,601h1v1h-1zM513,601h1v1h-1zM517,603h1v1h-1zM518,603h1v1h-1zM519,604h1v1h-1zM523,605h1v1h-1zM524,606h1v1h-1zM525,606h1v1h-1zM529,609h1v1h-1zM530,609h1v1h-1zM531,610h1v1h-1zM535,612h1v1h-1zM536,613h1v1h-1zM537,613h1v1h-1zM541,615h1v1h-1zM542,616h1v1h-1zM543,616h1v1h-1zM547,618h1v1h-1zM548,619h1v1h-1zM549,619h1v1h-1zM553,622h1v1h-1zM554,622h1v1h-1zM555,623h1v1h-1zM559,626h1v1h-1zM560,626h1v1h-1zM561,627h1v1h-1zM565,629h1v1h-1zM566,630h1v1h-1zM567,631h1v1h-1zM571,633h1v1h-1zM572,634h1v1h-1zM573,634h1v1h-1zM577,637h1v1h-1zM578,637h1v1h-1zM579,638h1v1h-1zM583,640h1v1h-1zM584,641h1v1h-1zM585,641h1v1h-1zM589,643h1v1h-1zM590,643h1v1h-1zM591,644h1v1h-1zM595,645h1v1h-1zM596,645h1v1h-1zM597,646h1v1h-1zM601,647h1v1h-1zM602,647h1v1h-1zM603,647h1v1h-1zM607,648h1v1h-1zM608,648h1v1h-1zM609,648h1v1h-1zM613,648h1v1h-1zM614,648h1v1h-1zM615,648h1v1h-1zM619,648h1v1h-1zM620,648h1v1h-1zM621,647h1v1h-1zM625,646h1v1h-1zM626,646h1v1h-1zM627,646h1v1h-1zM631,645h1v1h-1zM632,645h1v1h-1zM633,644h1v1h-1zM637,643h1v1h-1zM638,643h1v1h-1zM639,642h1v1h-1zM643,641h1v1h-1zM644,640h1v1h-1zM645,640h1v1h-1zM649,638h1v1h-1zM650,637h1v1h-1zM651,637h1v1h-1zM655,634h1v1h-1zM656,634h1v1h-1zM657,633h1v1h-1zM661,631h1v1h-1zM662,630h1v1h-1zM663,629h1v1h-1zM667,627h1v1h-1zM668,626h1v1h-1zM669,626h1v1h-1zM673,623h1v1h-1zM674,623h1v1h-1zM675,622h1v1h-1zM679,620h1v1h-1zM680,620h1v1h-1zM681,620h1v1h-1zM685,618h1v1h-1zM686,618h1v1h-1zM687,618h1v1h-1zM691,617h1v1h-1zM692,617h1v1h-1zM693,616h1v1h-1zM697,615h1v1h-1zM698,615h1v1h-1zM699,615h1v1h-1zM703,615h1v1h-1zM704,615h1v1h-1zM705,615h1v1h-1zM709,615h1v1h-1zM710,615h1v1h-1zM711,614h1v1h-1zM715,614h1v1h-1zM716,614h1v1h-1zM717,614h1v1h-1zM721,615h1v1h-1zM722,615h1v1h-1zM723,615h1v1h-1zM727,616h1v1h-1zM728,616h1v1h-1zM729,617h1v1h-1zM733,617h1v1h-1zM734,617h1v1h-1zM735,618h1v1h-1zM739,618h1v1h-1zM740,618h1v1h-1zM741,618h1v1h-1zM745,619h1v1h-1zM746,619h1v1h-1zM747,619h1v1h-1zM751,619h1v1h-1zM752,619h1v1h-1zM753,619h1v1h-1zM757,619h1v1h-1zM758,619h1v1h-1zM759,620h1v1h-1zM763,620h1v1h-1zM764,620h1v1h-1zM765,620h1v1h-1zM769,621h1v1h-1zM770,621h1v1h-1zM771,621h1v1h-1zM775,622h1v1h-1zM776,622h1v1h-1zM777,622h1v1h-1zM781,622h1v1h-1zM782,622h1v1h-1zM783,623h1v1h-1zM787,623h1v1h-1zM788,623h1v1h-1zM789,624h1v1h-1zM793,625h1v1h-1zM794,625h1v1h-1zM795,625h1v1h-1zM799,626h1v1h-1zM800,626h1v1h-1zM801,626h1v1h-1zM805,627h1v1h-1zM806,627h1v1h-1zM807,627h1v1h-1zM811,628h1v1h-1zM812,628h1v1h-1zM813,628h1v1h-1zM817,629h1v1h-1zM818,629h1v1h-1zM819,629h1v1h-1zM823,630h1v1h-1zM824,630h1v1h-1zM825,631h1v1h-1zM829,631h1v1h-1zM830,631h1v1h-1zM831,632h1v1h-1zM835,632h1v1h-1zM836,632h1v1h-1zM837,632h1v1h-1zM841,633h1v1h-1zM842,633h1v1h-1zM843,633h1v1h-1zM847,633h1v1h-1zM848,633h1v1h-1zM849,633h1v1h-1zM853,633h1v1h-1zM854,633h1v1h-1zM855,634h1v1h-1zM859,634h1v1h-1zM860,634h1v1h-1zM861,634h1v1h-1zM865,635h1v1h-1zM866,635h1v1h-1zM867,635h1v1h-1zM871,636h1v1h-1zM872,636h1v1h-1zM873,636h1v1h-1zM877,636h1v1h-1zM878,636h1v1h-1zM879,637h1v1h-1zM883,637h1v1h-1zM884,637h1v1h-1zM885,638h1v1h-1zM889,639h1v1h-1zM890,639h1v1h-1zM891,639h1v1h-1zM895,640h1v1h-1zM896,640h1v1h-1zM897,641h1v1h-1zM901,642h1v1h-1zM902,642h1v1h-1zM903,643h1v1h-1zM907,644h1v1h-1zM908,644h1v1h-1zM909,645h1v1h-1zM913,646h1v1h-1zM914,647h1v1h-1zM915,647h1v1h-1zM919,649h1v1h-1zM920,650h1v1h-1zM921,650h1v1h-1zM925,652h1v1h-1zM926,653h1v1h-1zM927,653h1v1h-1zM931,655h1v1h-1zM932,656h1v1h-1zM933,656h1v1h-1zM937,659h1v1h-1zM938,659h1v1h-1zM939,660h1v1h-1zM943,663h1v1h-1zM944,663h1v1h-1zM945,664h1v1h-1zM949,667h1v1h-1zM950,667h1v1h-1zM951,668h1v1h-1zM955,671h1v1h-1zM956,672h1v1h-1zM957,673h1v1h-1zM961,676h1v1h-1zM962,676h1v1h-1zM963,677h1v1h-1zM967,681h1v1h-1zM968,681h1v1h-1zM969,682h1v1h-1zM973,685h1v1h-1zM974,686h1v1h-1zM975,687h1v1h-1zM979,689h1v1h-1zM980,690h1v1h-1zM981,690h1v1h-1zM985,693h1v1h-1zM986,693h1v1h-1zM987,694h1v1h-1zM991,696h1v1h-1zM992,696h1v1h-1zM993,696h1v1h-1zM997,698h1v1h-1zM998,698h1v1h-1zM999,699h1v1h-1zM1003,700h1v1h-1zM1004,700h1v1h-1zM1005,700h1v1h-1zM1009,701h1v1h-1zM1010,701h1v1h-1zM1011,701h1v1h-1zM1015,702h1v1h-1zM1016,702h1v1h-1zM1017,702h1v1h-1zM1021,702h1v1h-1zM1022,702h1v1h-1zM1023,702h1v1h-1zM1027,702h1v1h-1zM1028,702h1v1h-1zM1029,702h1v1h-1zM1033,701h1v1h-1zM1034,701h1v1h-1zM1035,701h1v1h-1zM1039,700h1v1h-1zM1040,700h1v1h-1zM1041,700h1v1h-1zM1045,700h1v1h-1zM1046,700h1v1h-1zM1047,699h1v1h-1zM1051,699h1v1h-1zM1052,699h1v1h-1zM1053,699h1v1h-1zM1057,698h1v1h-1zM1058,698h1v1h-1zM1059,698h1v1h-1zM1063,697h1v1h-1zM1064,697h1v1h-1zM1065,697h1v1h-1zM1069,697h1v1h-1zM1070,697h1v1h-1zM1071,697h1v1h-1zM1075,697h1v1h-1zM1076,697h1v1h-1zM1077,696h1v1h-1zM1081,695h1v1h-1zM1082,695h1v1h-1zM1083,695h1v1h-1zM1087,694h1v1h-1zM1088,694h1v1h-1zM1089,693h1v1h-1zM1093,692h1v1h-1zM1094,691h1v1h-1zM1095,691h1v1h-1zM1099,689h1v1h-1zM1100,688h1v1h-1zM1101,688h1v1h-1zM1105,685h1v1h-1zM1106,685h1v1h-1zM1107,684h1v1h-1zM1111,681h1v1h-1zM1112,680h1v1h-1zM1113,679h1v1h-1zM1117,677h1v1h-1zM1118,676h1v1h-1zM1119,675h1v1h-1zM1123,673h1v1h-1zM1124,672h1v1h-1zM1125,671h1v1h-1zM1129,668h1v1h-1zM1130,667h1v1h-1zM1131,666h1v1h-1zM1135,663h1v1h-1zM1136,662h1v1h-1zM1137,661h1v1h-1zM1141,659h1v1h-1zM1142,658h1v1h-1zM1143,657h1v1h-1zM1147,655h1v1h-1zM1148,654h1v1h-1zM1149,654h1v1h-1zM1153,651h1v1h-1zM1154,651h1v1h-1zM1155,650h1v1h-1zM1159,648h1v1h-1zM1160,648h1v1h-1zM1161,648h1v1h-1zM1165,646h1v1h-1zM1166,646h1v1h-1zM1167,646h1v1h-1zM1171,645h1v1h-1zM1172,645h1v1h-1zM1173,645h1v1h-1zM1177,645h1v1h-1zM1178,645h1v1h-1zM1179,645h1v1h-1zM1183,645h1v1h-1zM1184,645h1v1h-1zM1185,645h1v1h-1zM1189,645h1v1h-1zM1190,645h1v1h-1zM1191,645h1v1h-1zM1195,645h1v1h-1zM1196,645h1v1h-1zM1197,645h1v1h-1zM1201,645h1v1h-1zM1202,645h1v1h-1zM1203,645h1v1h-1zM1207,644h1v1h-1zM1208,644h1v1h-1zM1209,644h1v1h-1zM1213,644h1v1h-1zM1214,644h1v1h-1zM1215,643h1v1h-1zM1219,643h1v1h-1zM1220,643h1v1h-1zM1221,643h1v1h-1zM1225,642h1v1h-1zM1226,642h1v1h-1zM1227,642h1v1h-1zM1231,642h1v1h-1zM1232,642h1v1h-1zM1233,642h1v1h-1zM1237,643h1v1h-1zM1238,643h1v1h-1zM1239,643h1v1h-1zM1243,644h1v1h-1zM1244,645h1v1h-1zM1245,645h1v1h-1zM1249,647h1v1h-1zM1250,648h1v1h-1zM1251,648h1v1h-1zM1255,651h1v1h-1zM1256,651h1v1h-1zM1257,652h1v1h-1zM1261,654h1v1h-1zM1262,655h1v1h-1zM1263,656h1v1h-1zM1267,658h1v1h-1zM1268,659h1v1h-1zM1269,660h1v1h-1zM1273,663h1v1h-1zM1274,664h1v1h-1zM1275,665h1v1h-1zM1279,669h1v1h-1zM1279,670h1v1h-1zM1280,671h1v1h-1zM1284,675h1v1h-1zM1285,676h1v1h-1zM1286,677h1v1h-1zM1289,681h1v1h-1zM1290,682h1v1h-1zM1291,683h1v1h-1zM1294,687h1v1h-1zM1295,688h1v1h-1zM1295,689h1v1h-1zM1298,693h1v1h-1zM1299,694h1v1h-1zM1300,695h1v1h-1zM1303,699h1v1h-1zM1303,700h1v1h-1zM1304,701h1v1h-1zM1307,705h1v1h-1zM1308,706h1v1h-1zM1309,707h1v1h-1zM1313,711h1v1h-1zM1314,712h1v1h-1zM1315,713h1v1h-1zM1319,717h1v1h-1zM1320,717h1v1h-1zM1321,718h1v1h-1zM1325,722h1v1h-1zM1326,722h1v1h-1zM1327,723h1v1h-1zM1331,726h1v1h-1zM1332,727h1v1h-1zM1333,727h1v1h-1zM1337,730h1v1h-1zM1338,730h1v1h-1zM1339,731h1v1h-1zM1343,733h1v1h-1zM1344,733h1v1h-1zM1345,733h1v1h-1zM1349,735h1v1h-1zM1350,735h1v1h-1zM1351,735h1v1h-1zM1355,736h1v1h-1zM1356,736h1v1h-1zM1357,736h1v1h-1zM1361,736h1v1h-1zM1362,736h1v1h-1zM1363,736h1v1h-1zM1367,735h1v1h-1zM1368,735h1v1h-1zM1369,734h1v1h-1zM1373,733h1v1h-1zM1374,732h1v1h-1zM1375,732h1v1h-1zM1379,730h1v1h-1zM1380,729h1v1h-1zM1381,728h1v1h-1zM1385,725h1v1h-1zM1386,725h1v1h-1zM1387,724h1v1h-1zM1391,720h1v1h-1zM1392,719h1v1h-1zM1393,718h1v1h-1zM1397,714h1v1h-1zM1398,713h1v1h-1zM1399,712h1v1h-1zM1403,708h1v1h-1zM1404,707h1v1h-1zM1405,706h1v1h-1zM1409,702h1v1h-1zM1410,701h1v1h-1zM1411,700h1v1h-1zM1415,696h1v1h-1zM1415,695h1v1h-1zM1416,694h1v1h-1zM1420,690h1v1h-1zM1421,689h1v1h-1zM1422,688h1v1h-1zM1425,684h1v1h-1zM1426,683h1v1h-1zM1427,682h1v1h-1zM1430,678h1v1h-1zM1431,677h1v1h-1zM1432,676h1v1h-1zM1435,672h1v1h-1zM1436,671h1v1h-1zM1437,670h1v1h-1zM1440,666h1v1h-1zM1441,665h1v1h-1zM1441,664h1v1h-1zM1445,660h1v1h-1zM1445,659h1v1h-1zM1446,658h1v1h-1zM1449,654h1v1h-1zM1450,653h1v1h-1zM1451,652h1v1h-1zM1455,648h1v1h-1zM1456,647h1v1h-1zM1457,646h1v1h-1z" fill="#ff0000"/>
</g>
<line x1="1328.7" y1="740.3" x2="1454.32" y2="622.15" stroke="#ff0000" stroke-width="3.1" stroke-linecap="round"/><path d="M1461.60,615.30 L1456.84,626.30 L1450.33,619.38 Z" fill="#ff0000"/>
</svg>
<svg x="0" y="753" width="1654" height="173" viewBox="0 753 1654 173" overflow="hidden">
<g shape-rendering="crispEdges">
<line x1="2" y1="787.5" x2="1654" y2="787.5" stroke="#c0c0c0" stroke-width="1" stroke-dasharray="3,3"/>
<line x1="2" y1="839.5" x2="1654" y2="839.5" stroke="#c0c0c0" stroke-width="1" stroke-dasharray="3,3"/>
<line x1="2" y1="900.5" x2="1654" y2="900.5" stroke="#c0c0c0" stroke-width="1" stroke-dasharray="3,3"/>
<polyline points="-4.5,830.4 3.5,826.9 11.5,829.8 19.5,832.7 27.5,832.6 35.5,830.9 43.5,834.2 51.5,826.2 59.5,830.6 67.5,834.0 75.5,834.5 83.5,836.5 91.5,832.1 99.5,814.3 107.5,812.7 115.5,821.2 123.5,824.6 131.5,832.7 139.5,845.4 147.5,851.0 155.5,850.8 163.5,852.4 171.5,840.3 179.5,838.0 187.5,816.4 195.5,816.4 203.5,820.0 211.5,816.6 219.5,818.9 227.5,823.9 235.5,825.0 243.5,823.3 251.5,825.1 259.5,815.5 267.5,812.4 275.5,810.0 283.5,840.0 291.5,839.2 299.5,837.0 307.5,845.8 315.5,834.2 323.5,834.9 331.5,818.6 339.5,830.7 347.5,830.6 355.5,828.6 363.5,821.3 371.5,820.9 379.5,807.8 387.5,803.8 395.5,803.8 403.5,805.7 411.5,812.5 419.5,809.7 427.5,799.6 435.5,795.0 443.5,810.3 451.5,814.1 459.5,823.0 467.5,820.1 475.5,830.9 483.5,828.0 491.5,825.8 499.5,821.6 507.5,831.8 515.5,857.6 523.5,849.5 531.5,853.0 539.5,854.0 547.5,853.6 555.5,859.4 563.5,856.9 571.5,859.3 579.5,852.3 587.5,856.0 595.5,857.3 603.5,841.8 611.5,820.3 619.5,814.7 627.5,823.0 635.5,823.0 643.5,818.0 651.5,810.8 659.5,807.8 667.5,828.2 675.5,828.3 683.5,831.9 691.5,831.3 699.5,842.5 707.5,838.3 715.5,830.4 723.5,834.6 731.5,833.5 739.5,829.9 747.5,817.2 755.5,830.1 763.5,833.1 771.5,850.1 779.5,849.4 787.5,850.6 795.5,840.0 803.5,841.2 811.5,836.2 819.5,831.0 827.5,830.0 835.5,837.8 843.5,844.2 851.5,835.7 859.5,857.9 867.5,853.1 875.5,851.2 883.5,851.4 891.5,853.6 899.5,850.1 907.5,865.8 915.5,871.0 923.5,873.3 931.5,878.0 939.5,886.3 947.5,888.4 955.5,888.6 963.5,882.9 971.5,883.5 979.5,878.1 987.5,869.6 995.5,870.8 1003.5,875.6 1011.5,875.2 1019.5,877.1 1027.5,879.3 1035.5,883.5 1043.5,879.3 1051.5,858.9 1059.5,875.0 1067.5,875.4 1075.5,860.3 1083.5,852.8 1091.5,828.6 1099.5,820.9 1107.5,828.9 1115.5,830.3 1123.5,829.4 1131.5,835.5 1139.5,847.5 1147.5,845.5 1155.5,852.6 1163.5,849.0 1171.5,846.7 1179.5,843.4 1187.5,840.7 1195.5,830.2 1203.5,834.0 1211.5,835.9 1219.5,834.0 1227.5,846.2 1235.5,870.5 1243.5,881.3 1251.5,879.5 1259.5,878.5 1267.5,876.5 1275.5,881.5 1283.5,886.3 1291.5,893.0 1299.5,895.1 1307.5,890.3 1315.5,877.4 1323.5,879.4 1331.5,876.6 1339.5,867.9 1347.5,866.1 1355.5,867.1 1363.5,870.4 1371.5,867.0 1379.5,836.5 1387.5,828.4 1395.5,833.7 1403.5,829.0 1411.5,840.4 1419.5,832.8 1427.5,822.4 1435.5,822.8 1443.5,820.7 1451.5,821.2 1459.5,821.1" fill="none" stroke="#1e90ff" stroke-width="1" />
</g>
<line x1="1316.9" y1="883.8" x2="1447.69" y2="820.78" stroke="#ff0000" stroke-width="3.2" stroke-linecap="round"/><path d="M1457.60,816.00 L1448.96,825.71 L1444.62,816.70 Z" fill="#ff0000"/>
</svg>
<g shape-rendering="crispEdges">
<rect x="1655" y="47" width="2" height="1" fill="#000"/>
<rect x="1655" y="80" width="2" height="1" fill="#000"/>
<rect x="1655" y="113" width="2" height="1" fill="#000"/>
<rect x="1655" y="146" width="2" height="1" fill="#000"/>
<rect x="1655" y="179" width="2" height="1" fill="#000"/>
<rect x="1655" y="212" width="2" height="1" fill="#000"/>
<rect x="1655" y="245" width="2" height="1" fill="#000"/>
<rect x="1655" y="278" width="2" height="1" fill="#000"/>
<rect x="1655" y="311" width="2" height="1" fill="#000"/>
<rect x="1655" y="344" width="2" height="1" fill="#000"/>
<rect x="1655" y="377" width="2" height="1" fill="#000"/>
<rect x="1655" y="410" width="2" height="1" fill="#000"/>
<rect x="1655" y="443" width="2" height="1" fill="#000"/>
<rect x="1655" y="476" width="2" height="1" fill="#000"/>
<rect x="1655" y="509" width="2" height="1" fill="#000"/>
<rect x="1655" y="542" width="2" height="1" fill="#000"/>
<rect x="1655" y="575" width="2" height="1" fill="#000"/>
</g>
<text x="1660" y="51" font-size="9.8" fill="#000" textLength="33" lengthAdjust="spacingAndGlyphs">1.39175</text>
<text x="1660" y="84" font-size="9.8" fill="#000" textLength="33" lengthAdjust="spacingAndGlyphs">1.38855</text>
<text x="1660" y="117" font-size="9.8" fill="#000" textLength="33" lengthAdjust="spacingAndGlyphs">1.38530</text>
<text x="1660" y="150" font-size="9.8" fill="#000" textLength="33" lengthAdjust="spacingAndGlyphs">1.38205</text>
<text x="1660" y="183" font-size="9.8" fill="#000" textLength="33" lengthAdjust="spacingAndGlyphs">1.37885</text>
<text x="1660" y="216" font-size="9.8" fill="#000" textLength="33" lengthAdjust="spacingAndGlyphs">1.37560</text>
<text x="1660" y="249" font-size="9.8" fill="#000" textLength="33" lengthAdjust="spacingAndGlyphs">1.37235</text>
<text x="1660" y="282" font-size="9.8" fill="#000" textLength="33" lengthAdjust="spacingAndGlyphs">1.36915</text>
<text x="1660" y="315" font-size="9.8" fill="#000" textLength="33" lengthAdjust="spacingAndGlyphs">1.36590</text>
<text x="1660" y="348" font-size="9.8" fill="#000" textLength="33" lengthAdjust="spacingAndGlyphs">1.36265</text>
<text x="1660" y="381" font-size="9.8" fill="#000" textLength="33" lengthAdjust="spacingAndGlyphs">1.35945</text>
<text x="1660" y="414" font-size="9.8" fill="#000" textLength="33" lengthAdjust="spacingAndGlyphs">1.35620</text>
<text x="1660" y="447" font-size="9.8" fill="#000" textLength="33" lengthAdjust="spacingAndGlyphs">1.35295</text>
<text x="1660" y="480" font-size="9.8" fill="#000" textLength="33" lengthAdjust="spacingAndGlyphs">1.34970</text>
<text x="1660" y="513" font-size="9.8" fill="#000" textLength="33" lengthAdjust="spacingAndGlyphs">1.34650</text>
<text x="1660" y="546" font-size="9.8" fill="#000" textLength="33" lengthAdjust="spacingAndGlyphs">1.34325</text>
<text x="1660" y="579" font-size="9.8" fill="#000" textLength="33" lengthAdjust="spacingAndGlyphs">1.34000</text>
<rect x="1656" y="306" width="41" height="11" fill="#ff0000" shape-rendering="crispEdges"/>
<text x="1660" y="315.4" font-size="9.8" fill="#fff" textLength="32.5" lengthAdjust="spacingAndGlyphs">1.36582</text>
<rect x="1656" y="329" width="41" height="11" fill="#ff4500" shape-rendering="crispEdges"/>
<text x="1660" y="338.4" font-size="9.8" fill="#fff" textLength="32.5" lengthAdjust="spacingAndGlyphs">1.36357</text>
<rect x="1656" y="355" width="41" height="11" fill="#000000" shape-rendering="crispEdges"/>
<text x="1660" y="364.4" font-size="9.8" fill="#fff" textLength="32.5" lengthAdjust="spacingAndGlyphs">1.36113</text>
<rect x="1656" y="367" width="41" height="11" fill="#32cd32" shape-rendering="crispEdges"/>
<text x="1660" y="376.4" font-size="9.8" fill="#fff" textLength="32.5" lengthAdjust="spacingAndGlyphs">1.35985</text>
<rect x="1656" y="390" width="41" height="11" fill="#0000ff" shape-rendering="crispEdges"/>
<text x="1660" y="399.4" font-size="9.8" fill="#fff" textLength="32.5" lengthAdjust="spacingAndGlyphs">1.35760</text>
<rect x="1656" y="414" width="41" height="11" fill="#0000ff" shape-rendering="crispEdges"/>
<text x="1660" y="423.4" font-size="9.8" fill="#fff" textLength="32.5" lengthAdjust="spacingAndGlyphs">1.35526</text>
<g shape-rendering="crispEdges">
<rect x="1655" y="581" width="2" height="1" fill="#000"/>
<rect x="1655" y="635" width="2" height="1" fill="#000"/>
<rect x="1655" y="749" width="2" height="1" fill="#000"/>
<rect x="1655" y="754" width="2" height="1" fill="#000"/>
<rect x="1655" y="788" width="2" height="1" fill="#000"/>
<rect x="1655" y="839" width="2" height="1" fill="#000"/>
<rect x="1655" y="900" width="2" height="1" fill="#000"/>
<rect x="1655" y="925" width="2" height="1" fill="#000"/>
</g>
<text x="1658" y="592" font-size="9.8" fill="#000" textLength="37" lengthAdjust="spacingAndGlyphs">0.003315</text>
<text x="1658" y="639" font-size="9.8" fill="#000" textLength="18" lengthAdjust="spacingAndGlyphs">0.00</text>
<text x="1657" y="747" font-size="9.8" fill="#000" textLength="41" lengthAdjust="spacingAndGlyphs">-0.007112</text>
<text x="1659" y="763" font-size="9.8" fill="#000" textLength="15" lengthAdjust="spacingAndGlyphs">100</text>
<text x="1659" y="792" font-size="9.8" fill="#000" textLength="10" lengthAdjust="spacingAndGlyphs">80</text>
<text x="1659" y="843" font-size="9.8" fill="#000" textLength="10" lengthAdjust="spacingAndGlyphs">50</text>
<text x="1659" y="904" font-size="9.8" fill="#000" textLength="10" lengthAdjust="spacingAndGlyphs">15</text>
<text x="1659" y="923" font-size="9.8" fill="#000" textLength="5" lengthAdjust="spacingAndGlyphs">0</text>
<g shape-rendering="crispEdges">
<rect x="59" y="927" width="1" height="3" fill="#000"/>
<rect x="123" y="927" width="1" height="3" fill="#000"/>
<rect x="187" y="927" width="1" height="3" fill="#000"/>
<rect x="251" y="927" width="1" height="3" fill="#000"/>
<rect x="315" y="927" width="1" height="3" fill="#000"/>
<rect x="379" y="927" width="1" height="3" fill="#000"/>
<rect x="443" y="927" width="1" height="3" fill="#000"/>
<rect x="507" y="927" width="1" height="3" fill="#000"/>
<rect x="571" y="927" width="1" height="3" fill="#000"/>
<rect x="635" y="927" width="1" height="3" fill="#000"/>
<rect x="699" y="927" width="1" height="3" fill="#000"/>
<rect x="763" y="927" width="1" height="3" fill="#000"/>
<rect x="827" y="927" width="1" height="3" fill="#000"/>
<rect x="891" y="927" width="1" height="3" fill="#000"/>
<rect x="955" y="927" width="1" height="3" fill="#000"/>
<rect x="1019" y="927" width="1" height="3" fill="#000"/>
<rect x="1083" y="927" width="1" height="3" fill="#000"/>
<rect x="1147" y="927" width="1" height="3" fill="#000"/>
<rect x="1211" y="927" width="1" height="3" fill="#000"/>
<rect x="1275" y="927" width="1" height="3" fill="#000"/>
<rect x="1339" y="927" width="1" height="3" fill="#000"/>
<rect x="1403" y="927" width="1" height="3" fill="#000"/>
</g>
<text x="58.5" y="939" font-size="9.8" fill="#000" textLength="55.1" lengthAdjust="spacingAndGlyphs">24 Aug 20:00</text>
<text x="122.5" y="939" font-size="9.8" fill="#000" textLength="55.1" lengthAdjust="spacingAndGlyphs">26 Aug 04:00</text>
<text x="186.5" y="939" font-size="9.8" fill="#000" textLength="55.1" lengthAdjust="spacingAndGlyphs">27 Aug 12:00</text>
<text x="250.5" y="939" font-size="9.8" fill="#000" textLength="55.1" lengthAdjust="spacingAndGlyphs">30 Aug 20:00</text>
<text x="314.5" y="939" font-size="9.8" fill="#000" textLength="50.4" lengthAdjust="spacingAndGlyphs">1 Sep 04:00</text>
<text x="378.5" y="939" font-size="9.8" fill="#000" textLength="50.4" lengthAdjust="spacingAndGlyphs">2 Sep 12:00</text>
<text x="442.5" y="939" font-size="9.8" fill="#000" textLength="50.4" lengthAdjust="spacingAndGlyphs">5 Sep 23:00</text>
<text x="506.5" y="939" font-size="9.8" fill="#000" textLength="50.4" lengthAdjust="spacingAndGlyphs">7 Sep 04:00</text>
<text x="570.5" y="939" font-size="9.8" fill="#000" textLength="50.4" lengthAdjust="spacingAndGlyphs">8 Sep 12:00</text>
<text x="634.5" y="939" font-size="9.8" fill="#000" textLength="50.4" lengthAdjust="spacingAndGlyphs">9 Sep 20:00</text>
<text x="698.5" y="939" font-size="9.8" fill="#000" textLength="55.6" lengthAdjust="spacingAndGlyphs">13 Sep 04:00</text>
<text x="762.5" y="939" font-size="9.8" fill="#000" textLength="55.6" lengthAdjust="spacingAndGlyphs">14 Sep 12:00</text>
<text x="826.5" y="939" font-size="9.8" fill="#000" textLength="55.6" lengthAdjust="spacingAndGlyphs">15 Sep 20:00</text>
<text x="890.5" y="939" font-size="9.8" fill="#000" textLength="55.6" lengthAdjust="spacingAndGlyphs">17 Sep 04:00</text>
<text x="954.5" y="939" font-size="9.8" fill="#000" textLength="55.6" lengthAdjust="spacingAndGlyphs">20 Sep 12:00</text>
<text x="1018.5" y="939" font-size="9.8" fill="#000" textLength="55.6" lengthAdjust="spacingAndGlyphs">21 Sep 20:00</text>
<text x="1082.5" y="939" font-size="9.8" fill="#000" textLength="55.6" lengthAdjust="spacingAndGlyphs">23 Sep 04:00</text>
<text x="1146.5" y="939" font-size="9.8" fill="#000" textLength="55.6" lengthAdjust="spacingAndGlyphs">24 Sep 12:00</text>
<text x="1210.5" y="939" font-size="9.8" fill="#000" textLength="55.6" lengthAdjust="spacingAndGlyphs">27 Sep 20:00</text>
<text x="1274.5" y="939" font-size="9.8" fill="#000" textLength="55.6" lengthAdjust="spacingAndGlyphs">29 Sep 04:00</text>
<text x="1338.5" y="939" font-size="9.8" fill="#000" textLength="55.6" lengthAdjust="spacingAndGlyphs">30 Sep 12:00</text>
<text x="1402.5" y="939" font-size="9.8" fill="#000" textLength="48.3" lengthAdjust="spacingAndGlyphs">3 Oct 23:00</text>
<text x="-5.5" y="939" font-size="9.8" fill="#000" textLength="52.5" lengthAdjust="spacingAndGlyphs">23 Aug 2021</text>
<text x="0" y="593" font-size="9.8" fill="#000" textLength="150" lengthAdjust="spacingAndGlyphs">MACD(12,26,9) 0.001271 -0.000530</text>
<text x="0" y="765" font-size="9.8" fill="#000" textLength="67" lengthAdjust="spacingAndGlyphs">RSI(14) 60.4358</text>
<path d="M0,36.5 l2.5,-3.5 l2.5,3.5 z" fill="#000"/>
<text x="10" y="37" font-size="9.8" fill="#000" textLength="204" lengthAdjust="spacingAndGlyphs" xml:space="preserve">GBPUSD-,H4  1.36102 1.36113 1.36099 1.36113</text>
<g shape-rendering="crispEdges">
<rect x="0" y="45" width="50" height="25" fill="#00009a"/>
<rect x="0" y="69" width="107" height="33" fill="#00009a"/>
<rect x="165" y="45" width="52" height="25" fill="#00009a"/>
<rect x="109" y="69" width="108" height="33" fill="#00009a"/>
<rect x="0" y="70" width="106" height="31" fill="url(#gprice)"/>
<rect x="110" y="70" width="106" height="31" fill="url(#gprice)"/>
<rect x="0" y="46" width="49" height="24" fill="url(#gsell)"/>
<rect x="166" y="46" width="50" height="24" fill="url(#gsell)"/>
<rect x="2" y="68" width="45" height="1" fill="#000070"/>
<rect x="2" y="69" width="45" height="1" fill="#7878ff"/>
<rect x="169" y="68" width="45" height="1" fill="#000070"/>
<rect x="169" y="69" width="45" height="1" fill="#7878ff"/>
</g>
<text x="10.6" y="61.3" font-size="12.4" fill="#fff" textLength="25.4" lengthAdjust="spacingAndGlyphs">SELL</text>
<text x="179" y="61.3" font-size="12.4" fill="#fff" textLength="23" lengthAdjust="spacingAndGlyphs">BUY</text>
<rect x="52.5" y="45.5" width="110" height="21" fill="#fff" stroke="#a0a0a0"/>
<rect x="53.5" y="46.5" width="19" height="19" fill="url(#gspin)" stroke="#c8c8c8"/>
<rect x="142.5" y="46.5" width="19" height="19" fill="url(#gspin)" stroke="#c8c8c8"/>
<path d="M59.5,54.5 h5 l-2.5,3 z" fill="#6070c0"/>
<path d="M149.5,57.5 h5 l-2.5,-3 z" fill="#6070c0"/>
<text x="137" y="60.2" font-size="12.4" fill="#000" text-anchor="end" textLength="23" lengthAdjust="spacingAndGlyphs">1.00</text>
<text x="18.5" y="97.2" font-size="12.4" font-weight="bold" fill="#fff" textLength="23.5" lengthAdjust="spacingAndGlyphs">1.36</text>
<text x="46.5" y="97.4" font-size="33.5" fill="#fff" textLength="33.5" lengthAdjust="spacingAndGlyphs">11</text>
<text x="85.5" y="80.3" font-size="10" font-weight="bold" fill="#fff" textLength="6.5" lengthAdjust="spacingAndGlyphs">3</text>
<text x="128.5" y="97.2" font-size="12.4" font-weight="bold" fill="#fff" textLength="23.5" lengthAdjust="spacingAndGlyphs">1.36</text>
<text x="157.5" y="97.4" font-size="33.5" fill="#fff" textLength="33" lengthAdjust="spacingAndGlyphs">13</text>
<text x="196" y="80.3" font-size="10" font-weight="bold" fill="#fff" textLength="7" lengthAdjust="spacingAndGlyphs">5</text>
</svg>
</body></html>
